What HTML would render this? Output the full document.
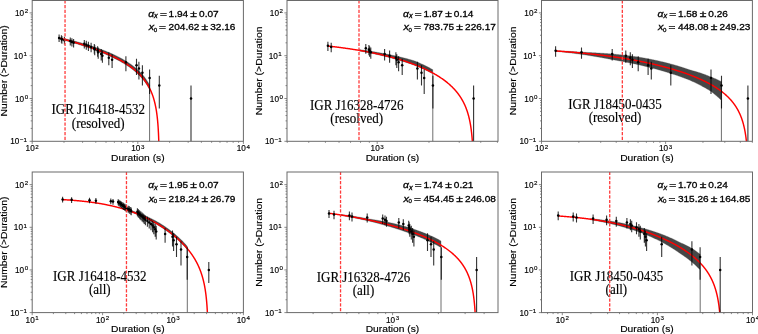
<!DOCTYPE html>
<html><head><meta charset="utf-8"><title>Duration distributions</title>
<style>html,body{margin:0;padding:0;background:#fff;}svg{display:block;will-change:transform;filter:blur(0.3px);}text{stroke:#000;stroke-width:0.15px;}.an text{stroke-width:0.3px;}</style>
</head><body>
<svg width="758" height="334" viewBox="0 0 758 334">
<rect width="758" height="334" fill="#fff"/>
<polygon fill="#474747" stroke="#474747" stroke-width="0.3" points="65,38.68 65.5,38.8 66,38.93 66.5,39.05 67,39.17 67.5,39.29 68,39.42 68.5,39.54 69,39.67 69.5,39.79 70,39.92 70.5,40.05 71,40.17 71.5,40.3 72,40.43 72.5,40.56 73,40.69 73.5,40.82 74,40.95 74.5,41.08 75,41.22 75.5,41.35 76,41.48 76.5,41.62 77,41.75 77.5,41.89 78,42.03 78.5,42.16 79,42.3 79.5,42.44 80,42.58 80.5,42.72 81,42.86 81.5,43 82,43.15 82.5,43.29 83,43.43 83.5,43.58 84,43.73 84.5,43.87 85,44.02 85.5,44.17 86,44.32 86.5,44.47 87,44.62 87.5,44.77 88,44.92 88.5,45.08 89,45.24 89.5,45.4 90,45.56 90.5,45.72 91,45.88 91.5,46.04 92,46.21 92.5,46.37 93,46.54 93.5,46.7 94,46.87 94.5,47.04 95,47.21 95.5,47.38 96,47.55 96.5,47.73 97,47.9 97.5,48.08 98,48.25 98.5,48.43 99,48.61 99.5,48.79 100,48.97 100.5,49.16 101,49.34 101.5,49.53 102,49.72 102.5,49.91 103,50.1 103.5,50.29 104,50.48 104.5,50.68 105,50.87 105.5,51.07 106,51.27 106.5,51.47 107,51.67 107.5,51.88 108,52.09 108.5,52.29 109,52.5 109.5,52.72 110,52.93 110.5,53.14 111,53.36 111.5,53.58 112,53.8 112.5,54.03 113,54.26 113.5,54.49 114,54.72 114.5,54.96 115,55.19 115.5,55.43 116,55.67 116.5,55.92 117,56.16 117.5,56.41 118,56.67 118.5,56.92 119,57.18 119.5,57.44 120,57.7 120.5,57.97 121,58.24 121.5,58.51 122,58.79 122.5,59.07 123,59.35 123.5,59.63 124,59.92 124.5,60.22 125,60.52 125.5,60.82 126,61.12 126.5,61.43 127,61.74 127.5,62.06 128,62.39 128.5,62.71 129,63.05 129.5,63.38 130,63.72 130.5,64.07 131,64.43 131.5,64.79 132,65.15 132.5,65.52 133,65.89 133.5,66.27 134,66.66 134.5,67.05 135,67.46 135.5,67.87 136,68.28 136.5,68.71 137,69.14 137.5,69.59 138,70.04 138.5,70.51 139,70.98 139.5,71.47 140,71.97 140.5,72.48 141,73 141.5,73.54 142,74.09 142.5,74.66 143,75.24 143.5,75.84 144,76.46 144.5,77.1 145,77.76 145.5,78.44 146,79.15 146.5,79.88 147,80.65 147.5,81.44 148,82.26 148.5,83.12 149,84.02 149.5,84.96 149.6,85.16 149.6,89.76 149.5,89.56 149,88.6 148.5,87.68 148,86.8 147.5,85.95 147,85.14 146.5,84.36 146,83.61 145.5,82.88 145,82.18 144.5,81.5 144,80.84 143.5,80.2 143,79.58 142.5,78.98 142,78.39 141.5,77.82 141,77.26 140.5,76.72 140,76.19 139.5,75.67 139,75.16 138.5,74.67 138,74.18 137.5,73.71 137,73.24 136.5,72.79 136,72.34 135.5,71.9 135,71.47 134.5,71.05 134,70.64 133.5,70.23 133,69.83 132.5,69.44 132,69.05 131.5,68.67 131,68.3 130.5,67.94 130,67.57 129.5,67.22 129,66.87 128.5,66.53 128,66.19 127.5,65.85 127,65.52 126.5,65.19 126,64.87 125.5,64.55 125,64.24 124.5,63.93 124,63.62 123.5,63.32 123,63.02 122.5,62.73 122,62.44 121.5,62.15 121,61.86 120.5,61.58 120,61.3 119.5,61.03 119,60.75 118.5,60.48 118,60.22 117.5,59.95 117,59.69 116.5,59.43 116,59.17 115.5,58.92 115,58.67 114.5,58.42 114,58.17 113.5,57.93 113,57.68 112.5,57.44 112,57.2 111.5,56.96 111,56.73 110.5,56.49 110,56.26 109.5,56.03 109,55.8 108.5,55.58 108,55.35 107.5,55.13 107,54.91 106.5,54.69 106,54.47 105.5,54.25 105,54.04 104.5,53.83 104,53.61 103.5,53.4 103,53.2 102.5,52.99 102,52.78 101.5,52.58 101,52.38 100.5,52.17 100,51.97 99.5,51.78 99,51.58 98.5,51.38 98,51.19 97.5,50.99 97,50.8 96.5,50.61 96,50.42 95.5,50.23 95,50.04 94.5,49.86 94,49.67 93.5,49.49 93,49.3 92.5,49.12 92,48.94 91.5,48.76 91,48.58 90.5,48.4 90,48.22 89.5,48.05 89,47.87 88.5,47.7 88,47.52 87.5,47.35 87,47.18 86.5,47.02 86,46.85 85.5,46.68 85,46.52 84.5,46.35 84,46.19 83.5,46.02 83,45.86 82.5,45.7 82,45.54 81.5,45.38 81,45.22 80.5,45.06 80,44.9 79.5,44.74 79,44.59 78.5,44.43 78,44.28 77.5,44.12 77,43.97 76.5,43.82 76,43.66 75.5,43.51 75,43.36 74.5,43.21 74,43.06 73.5,42.91 73,42.77 72.5,42.62 72,42.47 71.5,42.33 71,42.18 70.5,42.04 70,41.89 69.5,41.75 69,41.61 68.5,41.46 68,41.32 67.5,41.18 67,41.04 66.5,40.9 66,40.76 65.5,40.62 65,40.48"/>
<line x1="149.6" y1="89.76" x2="149.6" y2="141.3" stroke="#6e6e6e" stroke-width="1.0"/>
<polyline fill="none" stroke="#ff0000" stroke-width="1.45" stroke-linejoin="round" points="59.5,38.12 59.9,38.23 60.3,38.33 60.7,38.44 61.1,38.54 61.5,38.65 61.9,38.75 62.3,38.86 62.7,38.96 63.1,39.07 63.5,39.18 63.9,39.29 64.3,39.39 64.7,39.5 65.1,39.61 65.5,39.72 65.9,39.83 66.3,39.94 66.7,40.05 67.1,40.16 67.5,40.27 67.9,40.38 68.3,40.49 68.7,40.6 69.1,40.72 69.5,40.83 69.9,40.94 70.3,41.06 70.7,41.17 71.1,41.28 71.5,41.4 71.9,41.51 72.3,41.63 72.7,41.74 73.1,41.86 73.5,41.98 73.9,42.1 74.3,42.21 74.7,42.33 75.1,42.45 75.5,42.57 75.9,42.69 76.3,42.81 76.7,42.93 77.1,43.05 77.5,43.17 77.9,43.29 78.3,43.41 78.7,43.53 79.1,43.66 79.5,43.78 79.9,43.9 80.3,44.03 80.7,44.15 81.1,44.28 81.5,44.41 81.9,44.53 82.3,44.66 82.7,44.79 83.1,44.91 83.5,45.04 83.9,45.17 84.3,45.3 84.7,45.43 85.1,45.56 85.5,45.69 85.88,45.82 86.26,45.94 86.64,46.07 87.02,46.2 87.4,46.32 87.78,46.45 88.16,46.58 88.54,46.71 88.92,46.84 89.3,46.97 89.68,47.1 90.06,47.23 90.44,47.36 90.82,47.49 91.2,47.62 91.58,47.76 91.96,47.89 92.34,48.03 92.72,48.16 93.1,48.3 93.48,48.43 93.86,48.57 94.24,48.71 94.62,48.85 95,48.98 95.38,49.12 95.76,49.26 96.14,49.4 96.52,49.55 96.9,49.69 97.28,49.83 97.66,49.97 98.04,50.12 98.42,50.26 98.8,50.41 99.18,50.56 99.56,50.7 99.94,50.85 100.32,51 100.7,51.15 101.08,51.3 101.46,51.45 101.84,51.6 102.22,51.75 102.6,51.91 102.98,52.06 103.36,52.22 103.74,52.37 104.12,52.53 104.5,52.69 104.88,52.85 105.26,53.01 105.64,53.17 106.02,53.33 106.4,53.49 106.78,53.65 107.16,53.82 107.54,53.98 107.92,54.15 108.3,54.32 108.68,54.49 109.06,54.66 109.44,54.83 109.82,55 110.2,55.17 110.58,55.34 110.96,55.52 111.34,55.69 111.72,55.87 112.1,56.05 112.48,56.23 112.86,56.41 113.24,56.59 113.62,56.78 113.98,56.95 114.34,57.13 114.7,57.3 115.06,57.48 115.42,57.66 115.78,57.84 116.14,58.02 116.5,58.21 116.86,58.39 117.22,58.58 117.58,58.77 117.94,58.95 118.3,59.14 118.66,59.34 119.02,59.53 119.38,59.72 119.74,59.92 120.1,60.12 120.46,60.32 120.82,60.52 121.18,60.72 121.54,60.92 121.9,61.13 122.26,61.34 122.62,61.55 122.98,61.76 123.34,61.97 123.7,62.18 124.06,62.4 124.42,62.62 124.78,62.84 125.14,63.06 125.48,63.27 125.82,63.49 126.16,63.7 126.5,63.92 126.84,64.14 127.18,64.36 127.52,64.59 127.86,64.81 128.2,65.04 128.54,65.27 128.88,65.5 129.22,65.74 129.56,65.97 129.9,66.21 130.24,66.46 130.58,66.7 130.92,66.95 131.26,67.2 131.6,67.45 131.92,67.69 132.24,67.93 132.56,68.18 132.88,68.43 133.2,68.68 133.52,68.93 133.84,69.19 134.16,69.45 134.48,69.71 134.8,69.97 135.12,70.24 135.44,70.51 135.76,70.79 136.08,71.07 136.4,71.35 136.7,71.62 137,71.89 137.3,72.16 137.6,72.44 137.9,72.72 138.2,73 138.5,73.29 138.8,73.58 139.1,73.88 139.4,74.18 139.7,74.49 139.98,74.77 140.26,75.07 140.54,75.36 140.82,75.66 141.1,75.97 141.38,76.27 141.66,76.59 141.94,76.91 142.22,77.23 142.48,77.53 142.74,77.84 143,78.15 143.26,78.47 143.52,78.79 143.78,79.12 144.04,79.45 144.3,79.79 144.56,80.14 144.8,80.46 145.04,80.79 145.28,81.12 145.52,81.46 145.76,81.8 146,82.15 146.24,82.5 146.48,82.86 146.7,83.2 146.92,83.54 147.14,83.89 147.36,84.25 147.58,84.61 147.8,84.98 148.02,85.35 148.24,85.73 148.44,86.08 148.64,86.44 148.84,86.81 149.04,87.18 149.24,87.56 149.44,87.94 149.64,88.34 149.82,88.7 150,89.07 150.18,89.44 150.36,89.82 150.54,90.21 150.72,90.61 150.9,91.01 151.06,91.38 151.22,91.75 151.38,92.13 151.54,92.52 151.7,92.92 151.86,93.32 152.02,93.74 152.18,94.16 152.32,94.53 152.46,94.92 152.6,95.31 152.74,95.71 152.88,96.12 153.02,96.53 153.16,96.96 153.3,97.39 153.44,97.84 153.56,98.23 153.68,98.63 153.8,99.03 153.92,99.45 154.04,99.87 154.16,100.3 154.28,100.74 154.4,101.2 154.52,101.66 154.62,102.06 154.72,102.46 154.82,102.87 154.92,103.29 155.02,103.72 155.12,104.16 155.22,104.62 155.32,105.08 155.42,105.55 155.52,106.04 155.6,106.43 155.68,106.84 155.76,107.25 155.84,107.68 155.92,108.11 156,108.55 156.08,109 156.16,109.47 156.24,109.94 156.32,110.43 156.4,110.93 156.48,111.45 156.56,111.98 156.62,112.38 156.68,112.8 156.74,113.22 156.8,113.66 156.86,114.1 156.92,114.56 156.98,115.03 157.04,115.5 157.1,115.99 157.16,116.5 157.22,117.02 157.28,117.55 157.34,118.1 157.4,118.66 157.46,119.24 157.52,119.84 157.56,120.25 157.6,120.67 157.64,121.1 157.68,121.54 157.72,121.99 157.76,122.45 157.8,122.92 157.84,123.41 157.88,123.9 157.92,124.41 157.96,124.94 158,125.48 158.04,126.04 158.08,126.61 158.12,127.2 158.16,127.81 158.2,128.44 158.24,129.09 158.28,129.77 158.32,130.47 158.36,131.2 158.4,131.96 158.44,132.75 158.46,133.16 158.48,133.58 158.5,134 158.52,134.44 158.54,134.89 158.56,135.35 158.58,135.81 158.6,136.3 158.62,136.79 158.64,137.3 158.66,137.82 158.68,138.36 158.7,138.91 158.72,139.48 158.74,140.07 158.76,140.67 158.78,141.3"/>
<path d="M59.1 34.61V42M61.4 35.28V42.82M61.9 35.97V43.67M64.4 36.7V44.56M70.3 37.45V45.5M71.9 38.24V46.48M73.6 39.06V47.52M84.3 39.93V48.61M86.3 40.84V49.77M88.4 41.8V51M91.1 42.82V52.31M94.3 43.89V53.71M94.7 45.04V55.23M97.6 46.27V56.86M98.2 47.6V58.64M101.2 49.03V60.6M102.4 50.59V62.77M108.8 52.31V65.2M112.1 54.22V67.96M125.9 56.37V71.15M136.5 58.83V74.95M138.9 61.71V79.6M142.4 65.2V85.62M149.6 69.61V94.09M159.3 75.68V108.44M191 85.62V141.3" stroke="#000" stroke-opacity="0.8" stroke-width="1.1" fill="none"/>
<g fill="#000"><circle cx="59.1" cy="37.94" r="1.25"/><circle cx="61.4" cy="38.67" r="1.25"/><circle cx="61.9" cy="39.43" r="1.25"/><circle cx="64.4" cy="40.22" r="1.25"/><circle cx="70.3" cy="41.04" r="1.25"/><circle cx="71.9" cy="41.91" r="1.25"/><circle cx="73.6" cy="42.82" r="1.25"/><circle cx="84.3" cy="43.77" r="1.25"/><circle cx="86.3" cy="44.77" r="1.25"/><circle cx="88.4" cy="45.84" r="1.25"/><circle cx="91.1" cy="46.96" r="1.25"/><circle cx="94.3" cy="48.16" r="1.25"/><circle cx="94.7" cy="49.45" r="1.25"/><circle cx="97.6" cy="50.82" r="1.25"/><circle cx="98.2" cy="52.31" r="1.25"/><circle cx="101.2" cy="53.93" r="1.25"/><circle cx="102.4" cy="55.7" r="1.25"/><circle cx="108.8" cy="57.66" r="1.25"/><circle cx="112.1" cy="59.85" r="1.25"/><circle cx="125.9" cy="62.33" r="1.25"/><circle cx="136.5" cy="65.2" r="1.25"/><circle cx="138.9" cy="68.58" r="1.25"/><circle cx="142.4" cy="72.73" r="1.25"/><circle cx="149.6" cy="78.08" r="1.25"/><circle cx="159.3" cy="85.62" r="1.25"/><circle cx="191" cy="98.5" r="1.25"/></g>
<text x="98.2" y="114.4" text-anchor="middle" style="font-family:'Liberation Serif',serif;font-size:13.6px" textLength="93.53" lengthAdjust="spacingAndGlyphs" fill="#000">IGR J16418-4532</text>
<text x="98.2" y="127.6" text-anchor="middle" style="font-family:'Liberation Serif',serif;font-size:13.6px" textLength="52.7" lengthAdjust="spacingAndGlyphs" fill="#000">(resolved)</text>
<line x1="65.04" y1="141.3" x2="65.04" y2="0.5" stroke="#ff3b3b" stroke-width="1.3" stroke-dasharray="3.2 1.5" stroke-dashoffset="3.3"/>
<g class="an" fill="#000"><text x="148.15" y="16.7" style="font-family:'Liberation Sans';font-style:italic;font-size:9.2px" textLength="5.9" lengthAdjust="spacingAndGlyphs">α</text><text x="154.1" y="18.3" style="font-family:'Liberation Sans';font-style:italic;font-size:6.3px" textLength="3.7" lengthAdjust="spacingAndGlyphs">x</text><text x="148.8" y="30.1" style="font-family:'Liberation Sans';font-style:italic;font-size:9.2px" textLength="5.4" lengthAdjust="spacingAndGlyphs">x</text><text x="153.7" y="31.8" style="font-family:'Liberation Sans',sans-serif;font-size:6px" textLength="3.4" lengthAdjust="spacingAndGlyphs">0</text><text x="160.04" y="16.7" style="font-family:'Liberation Sans',sans-serif;font-size:9.2px" textLength="6.93" lengthAdjust="spacingAndGlyphs">=</text><text x="168.6" y="16.7" style="font-family:'Liberation Sans',sans-serif;font-size:9.2px" textLength="19.59" lengthAdjust="spacingAndGlyphs">1.94</text><text x="190.39" y="16.7" style="font-family:'Liberation Sans',sans-serif;font-size:8.8px" textLength="6.6" lengthAdjust="spacingAndGlyphs">±</text><text x="199.09" y="16.7" style="font-family:'Liberation Sans',sans-serif;font-size:9.2px" textLength="19.59" lengthAdjust="spacingAndGlyphs">0.07</text><text x="159.14" y="30.1" style="font-family:'Liberation Sans',sans-serif;font-size:9.2px" textLength="6.93" lengthAdjust="spacingAndGlyphs">=</text><text x="168.6" y="30.1" style="font-family:'Liberation Sans',sans-serif;font-size:9.2px" textLength="30.78" lengthAdjust="spacingAndGlyphs">204.62</text><text x="201.58" y="30.1" style="font-family:'Liberation Sans',sans-serif;font-size:8.8px" textLength="6.6" lengthAdjust="spacingAndGlyphs">±</text><text x="210.28" y="30.1" style="font-family:'Liberation Sans',sans-serif;font-size:9.2px" textLength="25.19" lengthAdjust="spacingAndGlyphs">32.16</text></g>
<rect x="32.2" y="0.5" width="211.2" height="140.8" fill="none" stroke="#6a6a6a" stroke-width="1"/>
<path d="M32.2 141.3v2.6M63.99 141.3v1.5M82.58 141.3v1.5M95.78 141.3v1.5M106.01 141.3v1.5M114.37 141.3v1.5M121.44 141.3v1.5M127.57 141.3v1.5M132.97 141.3v1.5M137.8 141.3v2.6M169.59 141.3v1.5M188.18 141.3v1.5M201.38 141.3v1.5M211.61 141.3v1.5M219.97 141.3v1.5M227.04 141.3v1.5M233.17 141.3v1.5M238.57 141.3v1.5M243.4 141.3v2.6M32.2 141.3h-2.6M32.2 128.42h-1.5M32.2 120.88h-1.5M32.2 115.53h-1.5M32.2 111.38h-1.5M32.2 108h-1.5M32.2 105.13h-1.5M32.2 102.65h-1.5M32.2 100.46h-1.5M32.2 98.5h-2.6M32.2 85.62h-1.5M32.2 78.08h-1.5M32.2 72.73h-1.5M32.2 68.58h-1.5M32.2 65.2h-1.5M32.2 62.33h-1.5M32.2 59.85h-1.5M32.2 57.66h-1.5M32.2 55.7h-2.6M32.2 42.82h-1.5M32.2 35.28h-1.5M32.2 29.93h-1.5M32.2 25.78h-1.5M32.2 22.4h-1.5M32.2 19.53h-1.5M32.2 17.05h-1.5M32.2 14.86h-1.5M32.2 12.9h-2.6" stroke="#6a6a6a" stroke-width="0.8" fill="none"/>
<g style="font-family:'Liberation Sans',sans-serif;font-size:8.2px" fill="#000"><text x="32.2" y="151.3" text-anchor="middle">10<tspan dx="0.6" dy="-2.7" style="font-size:6.2px">2</tspan></text><text x="137.8" y="151.3" text-anchor="middle">10<tspan dx="0.6" dy="-2.7" style="font-size:6.2px">3</tspan></text><text x="243.4" y="151.3" text-anchor="middle">10<tspan dx="0.6" dy="-2.7" style="font-size:6.2px">4</tspan></text><text x="27" y="144.3" text-anchor="end">10<tspan dx="0.6" dy="-2.7" style="font-size:6.2px">−1</tspan></text><text x="28.2" y="101.5" text-anchor="end">10<tspan dx="0.6" dy="-2.7" style="font-size:6.2px">0</tspan></text><text x="27" y="58.7" text-anchor="end">10<tspan dx="0.6" dy="-2.7" style="font-size:6.2px">1</tspan></text><text x="28.2" y="15.9" text-anchor="end">10<tspan dx="0.6" dy="-2.7" style="font-size:6.2px">2</tspan></text></g>
<text x="137.8" y="160.9" text-anchor="middle" style="font-family:'Liberation Sans',sans-serif;font-size:9px" textLength="53.6" lengthAdjust="spacingAndGlyphs" fill="#000">Duration (s)</text>
<text transform="translate(7,70.9) rotate(-90)" x="0" y="0" text-anchor="middle" style="font-family:'Liberation Sans',sans-serif;font-size:9px" textLength="91.3" lengthAdjust="spacingAndGlyphs" fill="#000">Number (&gt;Duration)</text>
<polygon fill="#474747" stroke="#474747" stroke-width="0.3" points="359,49.61 359.5,49.67 360,49.74 360.5,49.8 361,49.87 361.5,49.93 362,50 362.5,50.07 363,50.14 363.5,50.2 364,50.27 364.5,50.34 365,50.41 365.5,50.48 366,50.56 366.5,50.63 367,50.7 367.5,50.77 368,50.85 368.5,50.92 369,51 369.5,51.07 370,51.15 370.5,51.23 371,51.31 371.5,51.38 372,51.46 372.5,51.54 373,51.62 373.5,51.71 374,51.79 374.5,51.87 375,51.96 375.5,52.04 376,52.12 376.5,52.21 377,52.3 377.5,52.38 378,52.47 378.5,52.56 379,52.65 379.5,52.74 380,52.83 380.5,52.93 381,53.02 381.5,53.11 382,53.21 382.5,53.3 383,53.4 383.5,53.5 384,53.59 384.5,53.69 385,53.79 385.5,53.88 386,53.98 386.5,54.07 387,54.17 387.5,54.26 388,54.36 388.5,54.46 389,54.56 389.5,54.65 390,54.76 390.5,54.86 391,54.96 391.5,55.06 392,55.17 392.5,55.27 393,55.38 393.5,55.49 394,55.59 394.5,55.7 395,55.81 395.5,55.93 396,56.04 396.5,56.15 397,56.27 397.5,56.38 398,56.5 398.5,56.62 399,56.73 399.5,56.85 400,56.97 400.5,57.08 401,57.2 401.5,57.33 402,57.45 402.5,57.57 403,57.7 403.5,57.82 404,57.95 404.5,58.08 405,58.21 405.5,58.34 406,58.47 406.5,58.6 407,58.74 407.5,58.87 408,59.01 408.5,59.15 409,59.29 409.5,59.43 410,59.58 410.5,59.72 411,59.87 411.5,60.02 412,60.16 412.5,60.32 413,60.47 413.5,60.62 414,60.78 414.5,60.94 415,61.09 415.5,61.3 416,61.51 416.5,61.72 417,61.93 417.5,62.14 418,62.35 418.5,62.57 419,62.79 419.5,63.01 420,63.23 420.5,63.45 421,63.68 421.5,63.91 422,64.14 422.5,64.37 423,64.6 423.5,64.84 424,65.08 424.5,65.32 425,65.56 425.5,65.81 426,66.05 426.5,66.3 427,66.56 427.5,66.81 428,67.07 428.5,67.33 429,67.59 429.5,67.86 430,68.12 430.5,68.4 431,68.67 431.5,68.95 432,69.23 432.5,69.51 432.8,69.68 432.8,73.78 432.5,73.61 432,73.34 431.5,73.07 431,72.8 430.5,72.53 430,72.27 429.5,72.01 429,71.76 428.5,71.5 428,71.25 427.5,71 427,70.75 426.5,70.51 426,70.27 425.5,70.03 425,69.79 424.5,69.56 424,69.33 423.5,69.1 423,68.87 422.5,68.64 422,68.42 421.5,68.2 421,67.98 420.5,67.76 420,67.55 419.5,67.33 419,67.12 418.5,66.91 418,66.7 417.5,66.5 417,66.29 416.5,66.09 416,65.89 415.5,65.69 415,65.49 414.5,65.31 414,65.12 413.5,64.94 413,64.76 412.5,64.58 412,64.4 411.5,64.22 411,64.05 410.5,63.87 410,63.7 409.5,63.53 409,63.36 408.5,63.19 408,63.03 407.5,62.86 407,62.7 406.5,62.54 406,62.38 405.5,62.22 405,62.06 404.5,61.9 404,61.74 403.5,61.59 403,61.44 402.5,61.28 402,61.13 401.5,60.98 401,60.84 400.5,60.69 400,60.54 399.5,60.4 399,60.25 398.5,60.11 398,59.96 397.5,59.81 397,59.66 396.5,59.51 396,59.37 395.5,59.22 395,59.08 394.5,58.93 394,58.79 393.5,58.65 393,58.51 392.5,58.37 392,58.23 391.5,58.09 391,57.96 390.5,57.82 390,57.69 389.5,57.55 389,57.42 388.5,57.29 388,57.16 387.5,57.03 387,56.9 386.5,56.77 386,56.64 385.5,56.52 385,56.39 384.5,56.27 384,56.14 383.5,56.02 383,55.9 382.5,55.78 382,55.66 381.5,55.54 381,55.42 380.5,55.3 380,55.18 379.5,55.07 379,54.95 378.5,54.84 378,54.72 377.5,54.61 377,54.5 376.5,54.39 376,54.27 375.5,54.16 375,54.06 374.5,53.95 374,53.84 373.5,53.73 373,53.62 372.5,53.52 372,53.41 371.5,53.31 371,53.21 370.5,53.1 370,53 369.5,52.9 369,52.8 368.5,52.7 368,52.6 367.5,52.5 367,52.4 366.5,52.3 366,52.21 365.5,52.11 365,52.01 364.5,51.92 364,51.82 363.5,51.73 363,51.64 362.5,51.54 362,51.45 361.5,51.36 361,51.27 360.5,51.18 360,51.09 359.5,51 359,50.91"/>
<line x1="432.8" y1="73.78" x2="432.8" y2="141.3" stroke="#6e6e6e" stroke-width="1.0"/>
<polyline fill="none" stroke="#ff0000" stroke-width="1.45" stroke-linejoin="round" points="328,46.03 328.4,46.07 328.8,46.12 329.2,46.16 329.6,46.21 330,46.26 330.4,46.3 330.8,46.35 331.2,46.39 331.6,46.44 332,46.49 332.4,46.53 332.8,46.58 333.2,46.63 333.6,46.68 334,46.73 334.4,46.77 334.8,46.82 335.2,46.87 335.6,46.92 336,46.97 336.4,47.02 336.8,47.07 337.2,47.12 337.6,47.17 338,47.22 338.4,47.27 338.8,47.32 339.2,47.38 339.6,47.43 340,47.48 340.4,47.53 340.8,47.59 341.2,47.64 341.6,47.69 342,47.75 342.4,47.8 342.8,47.85 343.2,47.91 343.6,47.96 344,48.02 344.4,48.07 344.8,48.13 345.2,48.18 345.6,48.24 346,48.3 346.4,48.35 346.8,48.41 347.2,48.47 347.6,48.53 348,48.58 348.4,48.64 348.8,48.7 349.2,48.76 349.6,48.82 350,48.88 350.4,48.94 350.8,49 351.2,49.06 351.6,49.12 352,49.18 352.4,49.24 352.8,49.31 353.2,49.37 353.6,49.43 354,49.49 354.4,49.56 354.8,49.62 355.2,49.69 355.6,49.75 356,49.81 356.4,49.88 356.8,49.95 357.2,50.01 357.6,50.08 358,50.14 358.4,50.21 358.8,50.28 359.2,50.35 359.6,50.41 360,50.48 360.4,50.55 360.8,50.62 361.2,50.69 361.6,50.76 362,50.83 362.4,50.9 362.8,50.97 363.2,51.04 363.6,51.11 364,51.19 364.4,51.26 364.8,51.33 365.2,51.4 365.6,51.48 366,51.55 366.4,51.63 366.8,51.7 367.2,51.78 367.6,51.85 368,51.93 368.4,52.01 368.8,52.08 369.2,52.16 369.6,52.24 370,52.32 370.4,52.39 370.8,52.47 371.2,52.55 371.6,52.63 372,52.71 372.4,52.79 372.8,52.88 373.2,52.96 373.6,53.04 374,53.12 374.4,53.21 374.8,53.29 375.2,53.37 375.6,53.46 376,53.54 376.4,53.63 376.8,53.72 377.2,53.8 377.6,53.89 378,53.98 378.4,54.06 378.8,54.15 379.2,54.24 379.6,54.33 380,54.42 380.4,54.51 380.8,54.6 381.2,54.7 381.6,54.79 382,54.88 382.4,54.97 382.8,55.07 383.2,55.16 383.6,55.26 384,55.35 384.4,55.45 384.8,55.54 385.2,55.64 385.6,55.74 386,55.84 386.4,55.93 386.8,56.03 387.2,56.13 387.6,56.23 388,56.34 388.4,56.44 388.8,56.54 389.2,56.64 389.6,56.75 390,56.85 390.4,56.95 390.8,57.06 391.2,57.16 391.6,57.27 392,57.38 392.4,57.49 392.8,57.59 393.2,57.7 393.6,57.81 394,57.92 394.4,58.03 394.8,58.15 395.2,58.26 395.6,58.37 396,58.48 396.4,58.6 396.8,58.71 397.2,58.83 397.6,58.95 398,59.06 398.4,59.18 398.8,59.3 399.2,59.42 399.6,59.54 400,59.66 400.4,59.78 400.8,59.9 401.2,60.03 401.6,60.15 402,60.28 402.4,60.4 402.8,60.53 403.2,60.65 403.6,60.78 404,60.91 404.4,61.04 404.8,61.17 405.2,61.3 405.58,61.43 405.96,61.55 406.34,61.68 406.72,61.81 407.1,61.93 407.48,62.06 407.86,62.19 408.24,62.32 408.62,62.46 409,62.59 409.38,62.72 409.76,62.86 410.14,62.99 410.52,63.13 410.9,63.26 411.28,63.4 411.66,63.54 412.04,63.68 412.42,63.82 412.8,63.96 413.18,64.1 413.56,64.24 413.94,64.39 414.32,64.53 414.7,64.68 415.08,64.83 415.46,64.97 415.84,65.12 416.22,65.27 416.6,65.42 416.98,65.57 417.36,65.73 417.74,65.88 418.12,66.04 418.5,66.19 418.88,66.35 419.26,66.51 419.64,66.67 420.02,66.83 420.4,66.99 420.78,67.15 421.16,67.31 421.54,67.48 421.92,67.64 422.3,67.81 422.68,67.98 423.06,68.15 423.44,68.32 423.82,68.49 424.2,68.67 424.58,68.84 424.96,69.02 425.34,69.2 425.72,69.37 426.1,69.55 426.48,69.74 426.86,69.92 427.22,70.09 427.58,70.27 427.94,70.45 428.3,70.63 428.66,70.81 429.02,70.99 429.38,71.17 429.74,71.35 430.1,71.54 430.46,71.73 430.82,71.91 431.18,72.1 431.54,72.3 431.9,72.49 432.26,72.68 432.62,72.88 432.98,73.08 433.34,73.28 433.7,73.48 434.06,73.68 434.42,73.89 434.78,74.09 435.14,74.3 435.5,74.51 435.86,74.72 436.22,74.93 436.58,75.15 436.94,75.37 437.3,75.59 437.66,75.81 438,76.02 438.34,76.23 438.68,76.45 439.02,76.66 439.36,76.88 439.7,77.1 440.04,77.32 440.38,77.55 440.72,77.77 441.06,78 441.4,78.23 441.74,78.47 442.08,78.7 442.42,78.94 442.76,79.18 443.1,79.42 443.44,79.67 443.78,79.92 444.12,80.17 444.46,80.42 444.78,80.66 445.1,80.9 445.42,81.15 445.74,81.39 446.06,81.64 446.38,81.9 446.7,82.15 447.02,82.41 447.34,82.67 447.66,82.94 447.98,83.2 448.3,83.47 448.62,83.75 448.94,84.02 449.26,84.3 449.56,84.57 449.86,84.83 450.16,85.11 450.46,85.38 450.76,85.66 451.06,85.94 451.36,86.22 451.66,86.51 451.96,86.8 452.26,87.1 452.56,87.39 452.86,87.7 453.14,87.98 453.42,88.27 453.7,88.57 453.98,88.86 454.26,89.16 454.54,89.47 454.82,89.78 455.1,90.09 455.38,90.41 455.66,90.73 455.94,91.05 456.2,91.36 456.46,91.67 456.72,91.99 456.98,92.31 457.24,92.63 457.5,92.96 457.76,93.3 458.02,93.64 458.28,93.98 458.52,94.3 458.76,94.63 459,94.96 459.24,95.3 459.48,95.64 459.72,95.99 459.96,96.35 460.2,96.71 460.42,97.04 460.64,97.38 460.86,97.73 461.08,98.08 461.3,98.43 461.52,98.79 461.74,99.16 461.96,99.54 462.18,99.92 462.38,100.27 462.58,100.63 462.78,100.99 462.98,101.37 463.18,101.74 463.38,102.13 463.58,102.52 463.76,102.88 463.94,103.24 464.12,103.61 464.3,103.99 464.48,104.37 464.66,104.76 464.84,105.16 465.02,105.57 465.18,105.94 465.34,106.31 465.5,106.69 465.66,107.08 465.82,107.48 465.98,107.88 466.14,108.29 466.3,108.71 466.46,109.14 466.6,109.53 466.74,109.92 466.88,110.31 467.02,110.72 467.16,111.13 467.3,111.55 467.44,111.98 467.58,112.42 467.7,112.81 467.82,113.2 467.94,113.6 468.06,114.01 468.18,114.43 468.3,114.85 468.42,115.29 468.54,115.73 468.66,116.19 468.78,116.65 468.88,117.05 468.98,117.45 469.08,117.87 469.18,118.29 469.28,118.72 469.38,119.16 469.48,119.61 469.58,120.07 469.68,120.54 469.78,121.02 469.86,121.41 469.94,121.82 470.02,122.23 470.1,122.65 470.18,123.08 470.26,123.52 470.34,123.97 470.42,124.43 470.5,124.9 470.58,125.38 470.66,125.87 470.74,126.38 470.82,126.9 470.88,127.3 470.94,127.71 471,128.13 471.06,128.55 471.12,128.99 471.18,129.44 471.24,129.89 471.3,130.36 471.36,130.84 471.42,131.33 471.48,131.84 471.54,132.35 471.6,132.89 471.66,133.43 471.72,134 471.78,134.58 471.84,135.18 471.88,135.59 471.92,136.01 471.96,136.43 472,136.87 472.04,137.32 472.08,137.78 472.12,138.25 472.16,138.73 472.2,139.23 472.24,139.74 472.28,140.26 472.32,140.8 472.36,141.3"/>
<path d="M327.9 41.8V51M331.2 42.82V52.31M365.8 43.89V53.71M368.9 45.04V55.23M369.6 46.27V56.86M370.8 47.6V58.64M384.6 49.03V60.6M389.6 50.59V62.77M395.9 52.31V65.2M396.8 54.22V67.96M398.6 56.37V71.15M402.2 58.83V74.95M417.4 61.71V79.6M421.5 65.2V85.62M424.2 69.61V94.09M432.9 75.68V108.44M473.6 85.62V141.3" stroke="#000" stroke-opacity="0.8" stroke-width="1.1" fill="none"/>
<g fill="#000"><circle cx="327.9" cy="45.84" r="1.25"/><circle cx="331.2" cy="46.96" r="1.25"/><circle cx="365.8" cy="48.16" r="1.25"/><circle cx="368.9" cy="49.45" r="1.25"/><circle cx="369.6" cy="50.82" r="1.25"/><circle cx="370.8" cy="52.31" r="1.25"/><circle cx="384.6" cy="53.93" r="1.25"/><circle cx="389.6" cy="55.7" r="1.25"/><circle cx="395.9" cy="57.66" r="1.25"/><circle cx="396.8" cy="59.85" r="1.25"/><circle cx="398.6" cy="62.33" r="1.25"/><circle cx="402.2" cy="65.2" r="1.25"/><circle cx="417.4" cy="68.58" r="1.25"/><circle cx="421.5" cy="72.73" r="1.25"/><circle cx="424.2" cy="78.08" r="1.25"/><circle cx="432.9" cy="85.62" r="1.25"/><circle cx="473.6" cy="98.5" r="1.25"/></g>
<text x="356.7" y="109.9" text-anchor="middle" style="font-family:'Liberation Serif',serif;font-size:13.6px" textLength="93.53" lengthAdjust="spacingAndGlyphs" fill="#000">IGR J16328-4726</text>
<text x="356.7" y="123.1" text-anchor="middle" style="font-family:'Liberation Serif',serif;font-size:13.6px" textLength="52.7" lengthAdjust="spacingAndGlyphs" fill="#000">(resolved)</text>
<line x1="359" y1="141.3" x2="359" y2="0.5" stroke="#ff3b3b" stroke-width="1.3" stroke-dasharray="3.2 1.5" stroke-dashoffset="3.3"/>
<g class="an" fill="#000"><text x="402.95" y="16.7" style="font-family:'Liberation Sans';font-style:italic;font-size:9.2px" textLength="5.9" lengthAdjust="spacingAndGlyphs">α</text><text x="408.9" y="18.3" style="font-family:'Liberation Sans';font-style:italic;font-size:6.3px" textLength="3.7" lengthAdjust="spacingAndGlyphs">x</text><text x="403.6" y="30.1" style="font-family:'Liberation Sans';font-style:italic;font-size:9.2px" textLength="5.4" lengthAdjust="spacingAndGlyphs">x</text><text x="408.5" y="31.8" style="font-family:'Liberation Sans',sans-serif;font-size:6px" textLength="3.4" lengthAdjust="spacingAndGlyphs">0</text><text x="414.84" y="16.7" style="font-family:'Liberation Sans',sans-serif;font-size:9.2px" textLength="6.93" lengthAdjust="spacingAndGlyphs">=</text><text x="423.4" y="16.7" style="font-family:'Liberation Sans',sans-serif;font-size:9.2px" textLength="19.59" lengthAdjust="spacingAndGlyphs">1.87</text><text x="445.19" y="16.7" style="font-family:'Liberation Sans',sans-serif;font-size:8.8px" textLength="6.6" lengthAdjust="spacingAndGlyphs">±</text><text x="453.89" y="16.7" style="font-family:'Liberation Sans',sans-serif;font-size:9.2px" textLength="19.59" lengthAdjust="spacingAndGlyphs">0.14</text><text x="413.94" y="30.1" style="font-family:'Liberation Sans',sans-serif;font-size:9.2px" textLength="6.93" lengthAdjust="spacingAndGlyphs">=</text><text x="423.4" y="30.1" style="font-family:'Liberation Sans',sans-serif;font-size:9.2px" textLength="30.78" lengthAdjust="spacingAndGlyphs">783.75</text><text x="456.38" y="30.1" style="font-family:'Liberation Sans',sans-serif;font-size:8.8px" textLength="6.6" lengthAdjust="spacingAndGlyphs">±</text><text x="465.08" y="30.1" style="font-family:'Liberation Sans',sans-serif;font-size:9.2px" textLength="30.78" lengthAdjust="spacingAndGlyphs">226.17</text></g>
<rect x="287" y="0.5" width="211" height="140.8" fill="none" stroke="#6a6a6a" stroke-width="1"/>
<path d="M287.26 141.3v1.5M308.75 141.3v1.5M325.42 141.3v1.5M339.04 141.3v1.5M350.56 141.3v1.5M360.53 141.3v1.5M369.33 141.3v1.5M377.2 141.3v2.6M428.98 141.3v1.5M459.26 141.3v1.5M480.75 141.3v1.5M497.42 141.3v1.5M287 141.3h-2.6M287 128.42h-1.5M287 120.88h-1.5M287 115.53h-1.5M287 111.38h-1.5M287 108h-1.5M287 105.13h-1.5M287 102.65h-1.5M287 100.46h-1.5M287 98.5h-2.6M287 85.62h-1.5M287 78.08h-1.5M287 72.73h-1.5M287 68.58h-1.5M287 65.2h-1.5M287 62.33h-1.5M287 59.85h-1.5M287 57.66h-1.5M287 55.7h-2.6M287 42.82h-1.5M287 35.28h-1.5M287 29.93h-1.5M287 25.78h-1.5M287 22.4h-1.5M287 19.53h-1.5M287 17.05h-1.5M287 14.86h-1.5M287 12.9h-2.6" stroke="#6a6a6a" stroke-width="0.8" fill="none"/>
<g style="font-family:'Liberation Sans',sans-serif;font-size:8.2px" fill="#000"><text x="377.2" y="151.3" text-anchor="middle">10<tspan dx="0.6" dy="-2.7" style="font-size:6.2px">3</tspan></text><text x="281.8" y="144.3" text-anchor="end">10<tspan dx="0.6" dy="-2.7" style="font-size:6.2px">−1</tspan></text><text x="283" y="101.5" text-anchor="end">10<tspan dx="0.6" dy="-2.7" style="font-size:6.2px">0</tspan></text><text x="281.8" y="58.7" text-anchor="end">10<tspan dx="0.6" dy="-2.7" style="font-size:6.2px">1</tspan></text><text x="283" y="15.9" text-anchor="end">10<tspan dx="0.6" dy="-2.7" style="font-size:6.2px">2</tspan></text></g>
<text x="392.5" y="160.9" text-anchor="middle" style="font-family:'Liberation Sans',sans-serif;font-size:9px" textLength="53.6" lengthAdjust="spacingAndGlyphs" fill="#000">Duration (s)</text>
<text transform="translate(261.8,70.9) rotate(-90)" x="0" y="0" text-anchor="middle" style="font-family:'Liberation Sans',sans-serif;font-size:9px" textLength="88.7" lengthAdjust="spacingAndGlyphs" fill="#000">Number (&gt;Duration</text>
<polygon fill="#474747" stroke="#474747" stroke-width="0.3" points="556,50.68 556.5,50.71 557,50.73 557.5,50.75 558,50.78 558.5,50.8 559,50.82 559.5,50.85 560,50.87 560.5,50.9 561,50.92 561.5,50.95 562,50.97 562.5,51 563,51.03 563.5,51.05 564,51.08 564.5,51.11 565,51.13 565.5,51.16 566,51.19 566.5,51.22 567,51.25 567.5,51.27 568,51.3 568.5,51.33 569,51.36 569.5,51.39 570,51.42 570.5,51.45 571,51.48 571.5,51.51 572,51.55 572.5,51.58 573,51.61 573.5,51.64 574,51.67 574.5,51.71 575,51.74 575.5,51.77 576,51.81 576.5,51.84 577,51.87 577.5,51.91 578,51.94 578.5,51.98 579,52.02 579.5,52.05 580,52.09 580.5,52.12 581,52.16 581.5,52.18 582,52.2 582.5,52.22 583,52.24 583.5,52.25 584,52.27 584.5,52.29 585,52.32 585.5,52.34 586,52.36 586.5,52.38 587,52.4 587.5,52.42 588,52.45 588.5,52.47 589,52.49 589.5,52.52 590,52.54 590.5,52.56 591,52.59 591.5,52.61 592,52.64 592.5,52.67 593,52.69 593.5,52.72 594,52.74 594.5,52.77 595,52.8 595.5,52.83 596,52.86 596.5,52.88 597,52.91 597.5,52.94 598,52.97 598.5,53 599,53.03 599.5,53.07 600,53.1 600.5,53.13 601,53.16 601.5,53.19 602,53.23 602.5,53.26 603,53.29 603.5,53.33 604,53.36 604.5,53.4 605,53.43 605.5,53.47 606,53.51 606.5,53.54 607,53.58 607.5,53.62 608,53.66 608.5,53.69 609,53.73 609.5,53.77 610,53.81 610.5,53.85 611,53.89 611.5,53.93 612,53.98 612.5,54.02 613,54.07 613.5,54.12 614,54.16 614.5,54.21 615,54.26 615.5,54.31 616,54.36 616.5,54.41 617,54.46 617.5,54.51 618,54.56 618.5,54.61 619,54.66 619.5,54.71 620,54.77 620.5,54.82 621,54.87 621.5,54.93 622,54.98 622.5,55.04 623,55.09 623.5,55.15 624,55.21 624.5,55.26 625,55.32 625.5,55.38 626,55.44 626.5,55.5 627,55.56 627.5,55.62 628,55.68 628.5,55.74 629,55.8 629.5,55.86 630,55.92 630.5,55.99 631,56.05 631.5,56.12 632,56.18 632.5,56.25 633,56.31 633.5,56.38 634,56.45 634.5,56.51 635,56.58 635.5,56.65 636,56.72 636.5,56.79 637,56.86 637.5,56.93 638,57 638.5,57.07 639,57.15 639.5,57.22 640,57.29 640.5,57.38 641,57.47 641.5,57.56 642,57.65 642.5,57.74 643,57.83 643.5,57.92 644,58.01 644.5,58.1 645,58.19 645.5,58.29 646,58.38 646.5,58.48 647,58.57 647.5,58.67 648,58.76 648.5,58.86 649,58.96 649.5,59.06 650,59.16 650.5,59.26 651,59.36 651.5,59.46 652,59.56 652.5,59.66 653,59.76 653.5,59.87 654,59.97 654.5,60.08 655,60.18 655.5,60.29 656,60.4 656.5,60.51 657,60.61 657.5,60.72 658,60.83 658.5,60.94 659,61.06 659.5,61.17 660,61.28 660.5,61.4 661,61.51 661.5,61.63 662,61.74 662.5,61.86 663,61.98 663.5,62.1 664,62.22 664.5,62.34 665,62.46 665.5,62.58 666,62.71 666.5,62.84 667,62.97 667.5,63.09 668,63.22 668.5,63.36 669,63.49 669.5,63.62 670,63.75 670.5,63.89 671,64.02 671.5,64.16 672,64.3 672.5,64.44 673,64.58 673.5,64.72 674,64.86 674.5,65 675,65.14 675.5,65.29 676,65.43 676.5,65.58 677,65.73 677.5,65.87 678,66.02 678.5,66.17 679,66.33 679.5,66.48 680,66.63 680.5,66.79 681,66.94 681.5,67.1 682,67.26 682.5,67.42 683,67.58 683.5,67.74 684,67.9 684.5,68.07 685,68.23 685.5,68.4 686,68.57 686.5,68.74 687,68.91 687.5,69.08 688,69.26 688.5,69.43 689,69.61 689.5,69.79 690,69.97 690.5,70.1 691,70.23 691.5,70.36 692,70.49 692.5,70.63 693,70.77 693.5,70.9 694,71.05 694.5,71.19 695,71.33 695.5,71.48 696,71.62 696.5,71.77 697,71.92 697.5,72.08 698,72.23 698.5,72.39 699,72.55 699.5,72.71 700,72.87 700.5,73.04 701,73.2 701.5,73.37 702,73.54 702.5,73.72 703,73.89 703.5,74.07 704,74.25 704.5,74.43 705,74.62 705.5,74.81 706,75 706.5,75.19 707,75.39 707.5,75.59 708,75.79 708.5,75.99 709,76.2 709.5,76.41 710,76.63 710.5,76.84 711,77.07 711.5,77.24 712,77.42 712.5,77.61 713,77.8 713.5,77.99 714,78.19 714.5,78.39 715,78.59 715.5,78.8 716,79.01 716.5,79.23 717,79.45 717.5,79.68 718,79.91 718.5,80.15 719,80.39 719.5,80.64 720,80.89 720.5,81.15 721,81.41 721.4,81.63 721.4,100.33 721,99.94 720.5,99.47 720,99 719.5,98.53 719,98.07 718.5,97.62 718,97.17 717.5,96.73 717,96.29 716.5,95.86 716,95.43 715.5,95 715,94.58 714.5,94.17 714,93.76 713.5,93.35 713,92.94 712.5,92.54 712,92.15 711.5,91.75 711,91.37 710.5,91.05 710,90.74 709.5,90.43 709,90.12 708.5,89.82 708,89.52 707.5,89.22 707,88.93 706.5,88.64 706,88.35 705.5,88.06 705,87.78 704.5,87.5 704,87.22 703.5,86.94 703,86.67 702.5,86.4 702,86.13 701.5,85.86 701,85.6 700.5,85.34 700,85.08 699.5,84.82 699,84.56 698.5,84.31 698,84.06 697.5,83.81 697,83.56 696.5,83.31 696,83.07 695.5,82.82 695,82.58 694.5,82.34 694,82.11 693.5,81.87 693,81.64 692.5,81.4 692,81.17 691.5,80.94 691,80.72 690.5,80.49 690,80.27 689.5,80.06 689,79.86 688.5,79.67 688,79.47 687.5,79.27 687,79.08 686.5,78.89 686,78.69 685.5,78.5 685,78.31 684.5,78.13 684,77.94 683.5,77.76 683,77.57 682.5,77.39 682,77.21 681.5,77.03 681,76.85 680.5,76.67 680,76.49 679.5,76.32 679,76.14 678.5,75.97 678,75.8 677.5,75.62 677,75.45 676.5,75.28 676,75.12 675.5,74.95 675,74.78 674.5,74.62 674,74.45 673.5,74.29 673,74.13 672.5,73.97 672,73.81 671.5,73.65 671,73.49 670.5,73.33 670,73.17 669.5,73.02 669,72.86 668.5,72.71 668,72.56 667.5,72.4 667,72.25 666.5,72.1 666,71.95 665.5,71.8 665,71.66 664.5,71.51 664,71.36 663.5,71.21 663,71.07 662.5,70.92 662,70.77 661.5,70.63 661,70.49 660.5,70.34 660,70.2 659.5,70.06 659,69.92 658.5,69.78 658,69.64 657.5,69.5 657,69.37 656.5,69.23 656,69.09 655.5,68.96 655,68.82 654.5,68.69 654,68.56 653.5,68.42 653,68.29 652.5,68.16 652,68.03 651.5,67.9 651,67.77 650.5,67.64 650,67.52 649.5,67.39 649,67.26 648.5,67.14 648,67.01 647.5,66.89 647,66.76 646.5,66.64 646,66.52 645.5,66.39 645,66.27 644.5,66.15 644,66.03 643.5,65.91 643,65.79 642.5,65.68 642,65.56 641.5,65.44 641,65.32 640.5,65.21 640,65.09 639.5,64.98 639,64.87 638.5,64.76 638,64.64 637.5,64.53 637,64.42 636.5,64.31 636,64.2 635.5,64.1 635,63.99 634.5,63.88 634,63.77 633.5,63.67 633,63.56 632.5,63.46 632,63.35 631.5,63.25 631,63.14 630.5,63.04 630,62.94 629.5,62.84 629,62.74 628.5,62.63 628,62.53 627.5,62.43 627,62.33 626.5,62.24 626,62.14 625.5,62.04 625,61.94 624.5,61.84 624,61.75 623.5,61.65 623,61.56 622.5,61.46 622,61.37 621.5,61.27 621,61.18 620.5,61.09 620,60.99 619.5,60.9 619,60.81 618.5,60.72 618,60.63 617.5,60.54 617,60.45 616.5,60.36 616,60.27 615.5,60.18 615,60.09 614.5,60.01 614,59.92 613.5,59.83 613,59.75 612.5,59.66 612,59.58 611.5,59.48 611,59.38 610.5,59.28 610,59.19 609.5,59.09 609,58.99 608.5,58.9 608,58.8 607.5,58.71 607,58.62 606.5,58.52 606,58.43 605.5,58.34 605,58.24 604.5,58.15 604,58.06 603.5,57.97 603,57.88 602.5,57.79 602,57.7 601.5,57.61 601,57.52 600.5,57.43 600,57.34 599.5,57.25 599,57.17 598.5,57.08 598,56.99 597.5,56.91 597,56.82 596.5,56.73 596,56.65 595.5,56.56 595,56.48 594.5,56.4 594,56.31 593.5,56.23 593,56.15 592.5,56.06 592,55.98 591.5,55.9 591,55.82 590.5,55.74 590,55.66 589.5,55.58 589,55.5 588.5,55.42 588,55.34 587.5,55.26 587,55.18 586.5,55.1 586,55.02 585.5,54.94 585,54.87 584.5,54.79 584,54.71 583.5,54.64 583,54.56 582.5,54.49 582,54.41 581.5,54.34 581,54.26 580.5,54.19 580,54.13 579.5,54.06 579,54 578.5,53.93 578,53.86 577.5,53.8 577,53.73 576.5,53.67 576,53.61 575.5,53.54 575,53.48 574.5,53.42 574,53.35 573.5,53.29 573,53.23 572.5,53.17 572,53.11 571.5,53.04 571,52.98 570.5,52.92 570,52.86 569.5,52.8 569,52.74 568.5,52.68 568,52.62 567.5,52.56 567,52.51 566.5,52.45 566,52.39 565.5,52.33 565,52.27 564.5,52.22 564,52.16 563.5,52.1 563,52.05 562.5,51.99 562,51.93 561.5,51.88 561,51.82 560.5,51.77 560,51.71 559.5,51.66 559,51.6 558.5,51.55 558,51.5 557.5,51.44 557,51.39 556.5,51.34 556,51.28"/>
<line x1="721.4" y1="100.33" x2="721.4" y2="141.3" stroke="#6e6e6e" stroke-width="1.0"/>
<polyline fill="none" stroke="#ff0000" stroke-width="1.45" stroke-linejoin="round" points="555.6,50.96 556,50.98 556.4,51.01 556.8,51.04 557.2,51.06 557.6,51.09 558,51.12 558.4,51.14 558.8,51.17 559.2,51.2 559.6,51.23 560,51.25 560.4,51.28 560.8,51.31 561.2,51.34 561.6,51.37 562,51.39 562.4,51.42 562.8,51.45 563.2,51.48 563.6,51.51 564,51.54 564.4,51.57 564.8,51.6 565.2,51.63 565.6,51.66 566,51.69 566.4,51.72 566.8,51.75 567.2,51.78 567.6,51.81 568,51.84 568.4,51.87 568.8,51.91 569.2,51.94 569.6,51.97 570,52 570.4,52.03 570.8,52.07 571.2,52.1 571.6,52.13 572,52.17 572.4,52.2 572.8,52.23 573.2,52.27 573.6,52.3 574,52.33 574.4,52.37 574.8,52.4 575.2,52.44 575.6,52.47 576,52.51 576.4,52.54 576.8,52.58 577.2,52.61 577.6,52.65 578,52.68 578.4,52.72 578.8,52.76 579.2,52.79 579.6,52.83 580,52.87 580.4,52.9 580.8,52.94 581.2,52.98 581.6,53.02 582,53.06 582.4,53.09 582.8,53.13 583.2,53.17 583.6,53.21 584,53.25 584.4,53.29 584.8,53.33 585.2,53.37 585.6,53.41 586,53.45 586.4,53.49 586.8,53.53 587.2,53.57 587.6,53.61 588,53.65 588.4,53.69 588.8,53.74 589.2,53.78 589.6,53.82 590,53.86 590.4,53.9 590.8,53.95 591.2,53.99 591.6,54.03 592,54.08 592.4,54.12 592.8,54.17 593.2,54.21 593.6,54.25 594,54.3 594.4,54.34 594.8,54.39 595.2,54.44 595.6,54.48 596,54.53 596.4,54.57 596.8,54.62 597.2,54.67 597.6,54.71 598,54.76 598.4,54.81 598.8,54.86 599.2,54.9 599.6,54.95 600,55 600.4,55.05 600.8,55.1 601.2,55.15 601.6,55.2 602,55.25 602.4,55.3 602.8,55.35 603.2,55.4 603.6,55.45 604,55.5 604.4,55.55 604.8,55.6 605.2,55.65 605.6,55.71 606,55.76 606.4,55.81 606.8,55.86 607.2,55.92 607.6,55.97 608,56.02 608.4,56.08 608.8,56.13 609.2,56.19 609.6,56.24 610,56.3 610.4,56.35 610.8,56.41 611.2,56.46 611.6,56.52 612,56.58 612.4,56.63 612.8,56.69 613.2,56.75 613.6,56.8 614,56.86 614.4,56.92 614.8,56.98 615.2,57.04 615.6,57.1 616,57.16 616.4,57.22 616.8,57.28 617.2,57.34 617.6,57.4 618,57.46 618.4,57.52 618.8,57.58 619.2,57.64 619.6,57.7 620,57.77 620.4,57.83 620.8,57.89 621.2,57.95 621.6,58.02 622,58.08 622.4,58.15 622.8,58.21 623.2,58.27 623.6,58.34 624,58.41 624.4,58.47 624.8,58.54 625.2,58.6 625.6,58.67 626,58.74 626.4,58.8 626.8,58.87 627.2,58.94 627.6,59.01 628,59.08 628.4,59.15 628.8,59.21 629.2,59.28 629.6,59.35 630,59.42 630.4,59.5 630.8,59.57 631.2,59.64 631.6,59.71 632,59.78 632.4,59.85 632.8,59.93 633.2,60 633.6,60.07 634,60.15 634.4,60.22 634.8,60.29 635.2,60.37 635.6,60.44 636,60.52 636.4,60.6 636.8,60.67 637.2,60.75 637.6,60.82 638,60.9 638.4,60.98 638.8,61.06 639.2,61.14 639.6,61.21 640,61.29 640.4,61.37 640.8,61.45 641.2,61.53 641.6,61.61 642,61.69 642.4,61.78 642.8,61.86 643.2,61.94 643.6,62.02 644,62.1 644.4,62.19 644.8,62.27 645.2,62.36 645.6,62.44 646,62.52 646.4,62.61 646.8,62.7 647.2,62.78 647.6,62.87 648,62.96 648.4,63.04 648.8,63.13 649.2,63.22 649.6,63.31 650,63.4 650.4,63.48 650.8,63.57 651.2,63.66 651.6,63.76 652,63.85 652.4,63.94 652.8,64.03 653.2,64.12 653.6,64.22 654,64.31 654.4,64.4 654.8,64.5 655.2,64.59 655.6,64.69 656,64.78 656.4,64.88 656.8,64.97 657.2,65.07 657.6,65.17 658,65.27 658.4,65.36 658.8,65.46 659.2,65.56 659.6,65.66 660,65.76 660.4,65.86 660.8,65.96 661.2,66.07 661.6,66.17 662,66.27 662.4,66.37 662.8,66.48 663.2,66.58 663.6,66.69 664,66.79 664.4,66.9 664.8,67 665.2,67.11 665.6,67.22 666,67.33 666.4,67.43 666.8,67.54 667.2,67.65 667.6,67.76 668,67.87 668.4,67.98 668.8,68.1 669.2,68.21 669.6,68.32 670,68.43 670.4,68.55 670.8,68.66 671.2,68.78 671.6,68.89 672,69.01 672.4,69.13 672.8,69.24 673.2,69.36 673.6,69.48 674,69.6 674.4,69.72 674.8,69.84 675.2,69.96 675.6,70.09 676,70.21 676.4,70.33 676.8,70.46 677.2,70.58 677.6,70.71 678,70.83 678.4,70.96 678.8,71.09 679.2,71.21 679.6,71.34 680,71.47 680.4,71.6 680.8,71.73 681.18,71.86 681.56,71.98 681.94,72.11 682.32,72.24 682.7,72.37 683.08,72.49 683.46,72.62 683.84,72.75 684.22,72.88 684.6,73.02 684.98,73.15 685.36,73.28 685.74,73.41 686.12,73.55 686.5,73.68 686.88,73.82 687.26,73.96 687.64,74.09 688.02,74.23 688.4,74.37 688.78,74.51 689.16,74.65 689.54,74.79 689.92,74.94 690.3,75.08 690.68,75.22 691.06,75.37 691.44,75.51 691.82,75.66 692.2,75.81 692.58,75.96 692.96,76.11 693.34,76.26 693.72,76.41 694.1,76.56 694.48,76.71 694.86,76.87 695.24,77.02 695.62,77.18 696,77.34 696.38,77.5 696.76,77.66 697.14,77.82 697.52,77.98 697.9,78.14 698.28,78.31 698.66,78.47 699.04,78.64 699.42,78.8 699.8,78.97 700.18,79.14 700.56,79.31 700.94,79.48 701.32,79.66 701.7,79.83 702.08,80.01 702.46,80.19 702.84,80.36 703.22,80.54 703.6,80.73 703.98,80.91 704.34,81.08 704.7,81.26 705.06,81.44 705.42,81.61 705.78,81.79 706.14,81.97 706.5,82.16 706.86,82.34 707.22,82.53 707.58,82.71 707.94,82.9 708.3,83.09 708.66,83.28 709.02,83.47 709.38,83.67 709.74,83.87 710.1,84.06 710.46,84.26 710.82,84.46 711.18,84.67 711.54,84.87 711.9,85.08 712.26,85.29 712.62,85.5 712.98,85.71 713.34,85.92 713.7,86.14 714.06,86.36 714.42,86.58 714.78,86.8 715.12,87.01 715.46,87.23 715.8,87.44 716.14,87.66 716.48,87.88 716.82,88.1 717.16,88.33 717.5,88.55 717.84,88.78 718.18,89.01 718.52,89.25 718.86,89.48 719.2,89.72 719.54,89.96 719.88,90.21 720.22,90.45 720.56,90.7 720.9,90.95 721.24,91.21 721.56,91.45 721.88,91.7 722.2,91.94 722.52,92.19 722.84,92.45 723.16,92.7 723.48,92.96 723.8,93.23 724.12,93.49 724.44,93.76 724.76,94.03 725.08,94.31 725.4,94.59 725.7,94.85 726,95.12 726.3,95.39 726.6,95.67 726.9,95.95 727.2,96.23 727.5,96.52 727.8,96.81 728.1,97.1 728.4,97.4 728.7,97.7 728.98,97.99 729.26,98.28 729.54,98.57 729.82,98.87 730.1,99.17 730.38,99.47 730.66,99.79 730.94,100.1 731.22,100.42 731.5,100.75 731.76,101.05 732.02,101.36 732.28,101.68 732.54,102 732.8,102.33 733.06,102.66 733.32,102.99 733.58,103.33 733.82,103.65 734.06,103.98 734.3,104.31 734.54,104.65 734.78,104.99 735.02,105.33 735.26,105.69 735.5,106.05 735.72,106.38 735.94,106.72 736.16,107.07 736.38,107.42 736.6,107.78 736.82,108.14 737.04,108.51 737.26,108.89 737.46,109.24 737.66,109.6 737.86,109.96 738.06,110.33 738.26,110.71 738.46,111.09 738.66,111.48 738.84,111.84 739.02,112.21 739.2,112.58 739.38,112.96 739.56,113.34 739.74,113.74 739.92,114.14 740.1,114.55 740.26,114.92 740.42,115.3 740.58,115.69 740.74,116.08 740.9,116.48 741.06,116.89 741.22,117.31 741.38,117.74 741.52,118.12 741.66,118.51 741.8,118.91 741.94,119.32 742.08,119.73 742.22,120.16 742.36,120.59 742.5,121.04 742.62,121.42 742.74,121.82 742.86,122.22 742.98,122.64 743.1,123.06 743.22,123.49 743.34,123.93 743.46,124.38 743.58,124.84 743.68,125.24 743.78,125.64 743.88,126.05 743.98,126.47 744.08,126.9 744.18,127.34 744.28,127.79 744.38,128.24 744.48,128.72 744.58,129.2 744.66,129.59 744.74,130 744.82,130.41 744.9,130.83 744.98,131.26 745.06,131.7 745.14,132.15 745.22,132.61 745.3,133.09 745.38,133.57 745.46,134.07 745.54,134.58 745.62,135.11 745.68,135.51 745.74,135.92 745.8,136.34 745.86,136.77 745.92,137.22 745.98,137.67 746.04,138.13 746.1,138.61 746.16,139.09 746.22,139.59 746.28,140.1 746.34,140.63 746.4,141.17 746.42,141.3"/>
<path d="M555.6 46.27V56.86M581.5 47.6V58.64M612.2 49.03V60.6M625.8 50.59V62.77M630.3 52.31V65.2M632.4 54.22V67.96M638.2 56.37V71.15M648.1 58.83V74.95M651.3 61.71V79.6M670.8 65.2V85.62M711 69.61V94.09M721.5 75.68V108.44M747.9 85.62V141.3" stroke="#000" stroke-opacity="0.8" stroke-width="1.1" fill="none"/>
<g fill="#000"><circle cx="555.6" cy="50.82" r="1.25"/><circle cx="581.5" cy="52.31" r="1.25"/><circle cx="612.2" cy="53.93" r="1.25"/><circle cx="625.8" cy="55.7" r="1.25"/><circle cx="630.3" cy="57.66" r="1.25"/><circle cx="632.4" cy="59.85" r="1.25"/><circle cx="638.2" cy="62.33" r="1.25"/><circle cx="648.1" cy="65.2" r="1.25"/><circle cx="651.3" cy="68.58" r="1.25"/><circle cx="670.8" cy="72.73" r="1.25"/><circle cx="711" cy="78.08" r="1.25"/><circle cx="721.5" cy="85.62" r="1.25"/><circle cx="747.9" cy="98.5" r="1.25"/></g>
<text x="615" y="108.9" text-anchor="middle" style="font-family:'Liberation Serif',serif;font-size:13.6px" textLength="93.53" lengthAdjust="spacingAndGlyphs" fill="#000">IGR J18450-0435</text>
<text x="615" y="122.1" text-anchor="middle" style="font-family:'Liberation Serif',serif;font-size:13.6px" textLength="52.7" lengthAdjust="spacingAndGlyphs" fill="#000">(resolved)</text>
<line x1="622.33" y1="141.3" x2="622.33" y2="0.5" stroke="#ff3b3b" stroke-width="1.3" stroke-dasharray="3.2 1.5" stroke-dashoffset="3.3"/>
<g class="an" fill="#000"><text x="657.45" y="16.7" style="font-family:'Liberation Sans';font-style:italic;font-size:9.2px" textLength="5.9" lengthAdjust="spacingAndGlyphs">α</text><text x="663.4" y="18.3" style="font-family:'Liberation Sans';font-style:italic;font-size:6.3px" textLength="3.7" lengthAdjust="spacingAndGlyphs">x</text><text x="658.1" y="30.1" style="font-family:'Liberation Sans';font-style:italic;font-size:9.2px" textLength="5.4" lengthAdjust="spacingAndGlyphs">x</text><text x="663" y="31.8" style="font-family:'Liberation Sans',sans-serif;font-size:6px" textLength="3.4" lengthAdjust="spacingAndGlyphs">0</text><text x="669.34" y="16.7" style="font-family:'Liberation Sans',sans-serif;font-size:9.2px" textLength="6.93" lengthAdjust="spacingAndGlyphs">=</text><text x="677.9" y="16.7" style="font-family:'Liberation Sans',sans-serif;font-size:9.2px" textLength="19.59" lengthAdjust="spacingAndGlyphs">1.58</text><text x="699.69" y="16.7" style="font-family:'Liberation Sans',sans-serif;font-size:8.8px" textLength="6.6" lengthAdjust="spacingAndGlyphs">±</text><text x="708.39" y="16.7" style="font-family:'Liberation Sans',sans-serif;font-size:9.2px" textLength="19.59" lengthAdjust="spacingAndGlyphs">0.26</text><text x="668.44" y="30.1" style="font-family:'Liberation Sans',sans-serif;font-size:9.2px" textLength="6.93" lengthAdjust="spacingAndGlyphs">=</text><text x="677.9" y="30.1" style="font-family:'Liberation Sans',sans-serif;font-size:9.2px" textLength="30.78" lengthAdjust="spacingAndGlyphs">448.08</text><text x="710.88" y="30.1" style="font-family:'Liberation Sans',sans-serif;font-size:8.8px" textLength="6.6" lengthAdjust="spacingAndGlyphs">±</text><text x="719.58" y="30.1" style="font-family:'Liberation Sans',sans-serif;font-size:9.2px" textLength="30.78" lengthAdjust="spacingAndGlyphs">249.23</text></g>
<rect x="541.5" y="0.5" width="210.9" height="140.8" fill="none" stroke="#6a6a6a" stroke-width="1"/>
<path d="M541.5 141.3v2.6M578.86 141.3v1.5M600.71 141.3v1.5M616.22 141.3v1.5M628.24 141.3v1.5M638.07 141.3v1.5M646.38 141.3v1.5M653.57 141.3v1.5M659.92 141.3v1.5M665.6 141.3v2.6M702.96 141.3v1.5M724.81 141.3v1.5M740.32 141.3v1.5M752.34 141.3v1.5M541.5 141.3h-2.6M541.5 128.42h-1.5M541.5 120.88h-1.5M541.5 115.53h-1.5M541.5 111.38h-1.5M541.5 108h-1.5M541.5 105.13h-1.5M541.5 102.65h-1.5M541.5 100.46h-1.5M541.5 98.5h-2.6M541.5 85.62h-1.5M541.5 78.08h-1.5M541.5 72.73h-1.5M541.5 68.58h-1.5M541.5 65.2h-1.5M541.5 62.33h-1.5M541.5 59.85h-1.5M541.5 57.66h-1.5M541.5 55.7h-2.6M541.5 42.82h-1.5M541.5 35.28h-1.5M541.5 29.93h-1.5M541.5 25.78h-1.5M541.5 22.4h-1.5M541.5 19.53h-1.5M541.5 17.05h-1.5M541.5 14.86h-1.5M541.5 12.9h-2.6" stroke="#6a6a6a" stroke-width="0.8" fill="none"/>
<g style="font-family:'Liberation Sans',sans-serif;font-size:8.2px" fill="#000"><text x="541.5" y="151.3" text-anchor="middle">10<tspan dx="0.6" dy="-2.7" style="font-size:6.2px">2</tspan></text><text x="665.6" y="151.3" text-anchor="middle">10<tspan dx="0.6" dy="-2.7" style="font-size:6.2px">3</tspan></text><text x="536.3" y="144.3" text-anchor="end">10<tspan dx="0.6" dy="-2.7" style="font-size:6.2px">−1</tspan></text><text x="537.5" y="101.5" text-anchor="end">10<tspan dx="0.6" dy="-2.7" style="font-size:6.2px">0</tspan></text><text x="536.3" y="58.7" text-anchor="end">10<tspan dx="0.6" dy="-2.7" style="font-size:6.2px">1</tspan></text><text x="537.5" y="15.9" text-anchor="end">10<tspan dx="0.6" dy="-2.7" style="font-size:6.2px">2</tspan></text></g>
<text x="646.95" y="160.9" text-anchor="middle" style="font-family:'Liberation Sans',sans-serif;font-size:9px" textLength="53.6" lengthAdjust="spacingAndGlyphs" fill="#000">Duration (s)</text>
<text transform="translate(516.3,70.9) rotate(-90)" x="0" y="0" text-anchor="middle" style="font-family:'Liberation Sans',sans-serif;font-size:9px" textLength="88.7" lengthAdjust="spacingAndGlyphs" fill="#000">Number (&gt;Duration</text>
<polygon fill="#474747" stroke="#474747" stroke-width="0.3" points="126,208.96 126.5,209.1 127,209.25 127.5,209.39 128,209.54 128.5,209.68 129,209.83 129.5,209.98 130,210.14 130.5,210.29 131,210.45 131.5,210.61 132,210.77 132.5,210.93 133,211.09 133.5,211.26 134,211.43 134.5,211.6 135,211.77 135.5,211.95 136,212.12 136.5,212.3 137,212.48 137.5,212.66 138,212.85 138.5,213.03 139,213.22 139.5,213.41 140,213.61 140.5,213.8 141,214 141.5,214.2 142,214.4 142.5,214.6 143,214.81 143.5,215.02 144,215.23 144.5,215.44 145,215.65 145.5,215.88 146,216.1 146.5,216.33 147,216.55 147.5,216.78 148,217.02 148.5,217.25 149,217.49 149.5,217.73 150,217.97 150.5,218.22 151,218.47 151.5,218.71 152,218.97 152.5,219.22 153,219.48 153.5,219.74 154,220 154.5,220.27 155,220.53 155.5,220.8 156,221.08 156.5,221.35 157,221.63 157.5,221.91 158,222.2 158.5,222.48 159,222.77 159.5,223.06 160,223.36 160.5,223.67 161,223.99 161.5,224.31 162,224.63 162.5,224.95 163,225.28 163.5,225.61 164,225.94 164.5,226.28 165,226.62 165.5,226.96 166,227.31 166.5,227.66 167,228.02 167.5,228.37 168,228.73 168.5,229.1 169,229.47 169.5,229.84 170,230.21 170.5,230.59 171,230.98 171.5,231.36 172,231.76 172.5,232.15 173,232.55 173.5,232.96 174,233.36 174.5,233.78 175,234.19 175.5,234.62 176,235.04 176.5,235.48 177,235.92 177.5,236.36 178,236.81 178.5,237.26 179,237.72 179.5,238.19 180,238.66 180.5,239.13 181,239.62 181.5,240.11 182,240.61 182.5,241.11 183,241.62 183.5,242.14 184,242.67 184.5,243.21 185,243.75 185.5,244.31 186,244.87 186.5,245.44 187,246.02 187.3,246.38 187.3,249.68 187,249.32 186.5,248.74 186,248.16 185.5,247.59 185,247.04 184.5,246.49 184,245.95 183.5,245.42 183,244.89 182.5,244.38 182,243.87 181.5,243.37 181,242.87 180.5,242.38 180,241.9 179.5,241.43 179,240.96 178.5,240.5 178,240.04 177.5,239.59 177,239.14 176.5,238.7 176,238.26 175.5,237.83 175,237.4 174.5,236.98 174,236.57 173.5,236.15 173,235.75 172.5,235.34 172,234.94 171.5,234.55 171,234.16 170.5,233.77 170,233.39 169.5,233.01 169,232.63 168.5,232.26 168,231.89 167.5,231.53 167,231.17 166.5,230.81 166,230.46 165.5,230.11 165,229.76 164.5,229.41 164,229.07 163.5,228.74 163,228.4 162.5,228.07 162,227.74 161.5,227.42 161,227.09 160.5,226.77 160,226.46 159.5,226.14 159,225.82 158.5,225.51 158,225.2 157.5,224.9 157,224.59 156.5,224.29 156,223.99 155.5,223.69 155,223.4 154.5,223.11 154,222.82 153.5,222.54 153,222.25 152.5,221.97 152,221.69 151.5,221.42 151,221.15 150.5,220.87 150,220.61 149.5,220.34 149,220.08 148.5,219.82 148,219.56 147.5,219.3 147,219.05 146.5,218.8 146,218.55 145.5,218.3 145,218.05 144.5,217.81 144,217.57 143.5,217.34 143,217.1 142.5,216.87 142,216.64 141.5,216.41 141,216.19 140.5,215.96 140,215.74 139.5,215.52 139,215.31 138.5,215.09 138,214.88 137.5,214.67 137,214.46 136.5,214.25 136,214.05 135.5,213.85 135,213.64 134.5,213.45 134,213.25 133.5,213.05 133,212.86 132.5,212.67 132,212.48 131.5,212.3 131,212.11 130.5,211.93 130,211.75 129.5,211.57 129,211.39 128.5,211.21 128,211.04 127.5,210.87 127,210.7 126.5,210.53 126,210.36"/>
<line x1="187.3" y1="249.68" x2="187.3" y2="312.6" stroke="#6e6e6e" stroke-width="1.0"/>
<polyline fill="none" stroke="#ff0000" stroke-width="1.45" stroke-linejoin="round" points="62.6,199.63 63,199.65 63.4,199.67 63.8,199.7 64.2,199.72 64.6,199.74 65,199.77 65.4,199.79 65.8,199.82 66.2,199.84 66.6,199.87 67,199.9 67.4,199.92 67.8,199.95 68.2,199.98 68.6,200 69,200.03 69.4,200.06 69.8,200.09 70.2,200.12 70.6,200.15 71,200.17 71.4,200.2 71.8,200.23 72.2,200.27 72.6,200.3 73,200.33 73.4,200.36 73.8,200.39 74.2,200.42 74.6,200.46 75,200.49 75.4,200.52 75.8,200.56 76.2,200.59 76.6,200.63 77,200.66 77.4,200.7 77.8,200.73 78.2,200.77 78.6,200.81 79,200.84 79.4,200.88 79.8,200.92 80.2,200.96 80.6,201 81,201.04 81.4,201.08 81.8,201.12 82.2,201.16 82.6,201.2 83,201.24 83.4,201.28 83.8,201.33 84.2,201.37 84.6,201.41 85,201.46 85.4,201.5 85.8,201.55 86.2,201.59 86.6,201.64 87,201.69 87.4,201.74 87.8,201.78 88.2,201.83 88.6,201.88 89,201.93 89.4,201.98 89.8,202.03 90.2,202.08 90.6,202.14 91,202.19 91.4,202.24 91.8,202.3 92.2,202.35 92.6,202.41 93,202.46 93.4,202.52 93.8,202.57 94.2,202.63 94.6,202.69 95,202.75 95.4,202.81 95.8,202.87 96.2,202.93 96.6,202.99 97,203.05 97.4,203.12 97.8,203.18 98.2,203.24 98.6,203.31 99,203.37 99.4,203.44 99.8,203.51 100.2,203.57 100.6,203.64 101,203.71 101.4,203.78 101.8,203.85 102.2,203.92 102.6,204 103,204.07 103.4,204.14 103.8,204.22 104.2,204.29 104.6,204.37 105,204.45 105.4,204.52 105.8,204.6 106.2,204.68 106.6,204.76 107,204.84 107.4,204.92 107.8,205.01 108.2,205.09 108.6,205.17 109,205.26 109.4,205.35 109.8,205.43 110.2,205.52 110.6,205.61 111,205.7 111.4,205.79 111.8,205.88 112.2,205.97 112.6,206.07 113,206.16 113.4,206.26 113.8,206.35 114.2,206.45 114.6,206.55 115,206.65 115.4,206.74 115.8,206.85 116.2,206.95 116.6,207.05 117,207.15 117.4,207.26 117.8,207.36 118.2,207.47 118.6,207.58 119,207.69 119.4,207.8 119.8,207.91 120.2,208.02 120.6,208.13 121,208.25 121.4,208.36 121.8,208.48 122.2,208.6 122.6,208.71 123,208.83 123.4,208.95 123.8,209.08 124.2,209.2 124.6,209.32 125,209.45 125.4,209.57 125.8,209.7 126.2,209.83 126.6,209.96 127,210.09 127.38,210.21 127.76,210.34 128.14,210.47 128.52,210.59 128.9,210.72 129.28,210.85 129.66,210.99 130.04,211.12 130.42,211.25 130.8,211.39 131.18,211.52 131.56,211.66 131.94,211.8 132.32,211.94 132.7,212.08 133.08,212.22 133.46,212.36 133.84,212.5 134.22,212.65 134.6,212.79 134.98,212.94 135.36,213.09 135.74,213.24 136.12,213.39 136.5,213.54 136.88,213.69 137.26,213.85 137.64,214 138.02,214.16 138.4,214.32 138.78,214.48 139.16,214.64 139.54,214.8 139.92,214.96 140.3,215.13 140.68,215.29 141.06,215.46 141.44,215.62 141.82,215.79 142.2,215.96 142.58,216.13 142.96,216.31 143.34,216.48 143.72,216.66 144.1,216.83 144.48,217.01 144.86,217.19 145.24,217.37 145.62,217.55 146,217.73 146.36,217.91 146.72,218.08 147.08,218.26 147.44,218.44 147.8,218.62 148.16,218.8 148.52,218.98 148.88,219.16 149.24,219.35 149.6,219.53 149.96,219.72 150.32,219.91 150.68,220.1 151.04,220.29 151.4,220.48 151.76,220.67 152.12,220.87 152.48,221.06 152.84,221.26 153.2,221.46 153.56,221.66 153.92,221.86 154.28,222.06 154.64,222.26 155,222.47 155.36,222.67 155.72,222.88 156.08,223.09 156.44,223.3 156.8,223.51 157.16,223.73 157.52,223.94 157.88,224.16 158.24,224.37 158.6,224.59 158.96,224.81 159.32,225.03 159.66,225.25 160,225.46 160.34,225.67 160.68,225.89 161.02,226.1 161.36,226.32 161.7,226.54 162.04,226.76 162.38,226.98 162.72,227.2 163.06,227.43 163.4,227.66 163.74,227.88 164.08,228.11 164.42,228.34 164.76,228.57 165.1,228.81 165.44,229.04 165.78,229.28 166.12,229.52 166.46,229.76 166.8,230 167.14,230.24 167.48,230.49 167.82,230.73 168.16,230.98 168.5,231.23 168.84,231.48 169.18,231.73 169.52,231.99 169.84,232.23 170.16,232.47 170.48,232.72 170.8,232.96 171.12,233.21 171.44,233.46 171.76,233.71 172.08,233.96 172.4,234.22 172.72,234.47 173.04,234.73 173.36,234.99 173.68,235.25 174,235.51 174.32,235.78 174.64,236.05 174.96,236.32 175.28,236.59 175.6,236.86 175.92,237.13 176.24,237.41 176.56,237.69 176.88,237.97 177.18,238.24 177.48,238.5 177.78,238.77 178.08,239.04 178.38,239.32 178.68,239.59 178.98,239.87 179.28,240.15 179.58,240.43 179.88,240.72 180.18,241 180.48,241.29 180.78,241.58 181.08,241.87 181.38,242.17 181.68,242.47 181.98,242.77 182.28,243.07 182.58,243.38 182.86,243.66 183.14,243.95 183.42,244.25 183.7,244.54 183.98,244.84 184.26,245.14 184.54,245.44 184.82,245.75 185.1,246.05 185.38,246.37 185.66,246.68 185.94,247 186.22,247.32 186.5,247.64 186.78,247.96 187.04,248.27 187.3,248.58 187.56,248.89 187.82,249.2 188.08,249.52 188.34,249.84 188.6,250.16 188.86,250.49 189.12,250.82 189.38,251.16 189.64,251.49 189.9,251.83 190.16,252.18 190.4,252.5 190.64,252.83 190.88,253.15 191.12,253.49 191.36,253.82 191.6,254.16 191.84,254.5 192.08,254.85 192.32,255.2 192.56,255.56 192.8,255.92 193.04,256.28 193.26,256.62 193.48,256.96 193.7,257.31 193.92,257.66 194.14,258.02 194.36,258.38 194.58,258.74 194.8,259.11 195.02,259.48 195.24,259.86 195.44,260.21 195.64,260.56 195.84,260.92 196.04,261.28 196.24,261.65 196.44,262.02 196.64,262.4 196.84,262.79 197.04,263.18 197.24,263.57 197.42,263.93 197.6,264.3 197.78,264.67 197.96,265.04 198.14,265.43 198.32,265.81 198.5,266.21 198.68,266.61 198.86,267.02 199.02,267.38 199.18,267.76 199.34,268.13 199.5,268.52 199.66,268.91 199.82,269.3 199.98,269.71 200.14,270.12 200.3,270.53 200.46,270.96 200.6,271.34 200.74,271.72 200.88,272.11 201.02,272.51 201.16,272.91 201.3,273.32 201.44,273.74 201.58,274.17 201.72,274.6 201.86,275.04 201.98,275.43 202.1,275.82 202.22,276.22 202.34,276.63 202.46,277.04 202.58,277.46 202.7,277.89 202.82,278.33 202.94,278.78 203.06,279.24 203.16,279.62 203.26,280.02 203.36,280.42 203.46,280.83 203.56,281.25 203.66,281.67 203.76,282.11 203.86,282.55 203.96,283 204.06,283.46 204.16,283.94 204.26,284.42 204.34,284.82 204.42,285.22 204.5,285.63 204.58,286.05 204.66,286.47 204.74,286.91 204.82,287.35 204.9,287.81 204.98,288.27 205.06,288.75 205.14,289.23 205.22,289.73 205.3,290.24 205.38,290.77 205.44,291.17 205.5,291.58 205.56,292 205.62,292.42 205.68,292.86 205.74,293.31 205.8,293.76 205.86,294.23 205.92,294.71 205.98,295.2 206.04,295.7 206.1,296.21 206.16,296.74 206.22,297.28 206.28,297.84 206.34,298.41 206.4,299.01 206.44,299.41 206.48,299.82 206.52,300.24 206.56,300.67 206.6,301.11 206.64,301.56 206.68,302.03 206.72,302.5 206.76,302.98 206.8,303.48 206.84,303.99 206.88,304.51 206.92,305.05 206.96,305.6 207,306.17 207.04,306.75 207.08,307.36 207.12,307.98 207.16,308.62 207.2,309.29 207.24,309.98 207.28,310.7 207.32,311.44 207.36,312.21 207.38,312.6"/>
<path d="M62.6 196.87V202.43M71.6 197.26V202.88M89.5 197.65V203.35M95.9 198.06V203.82M110.8 198.48V204.31M113 198.9V204.81M118.2 199.34V205.32M118.7 199.79V205.85M119.2 200.25V206.39M120.4 200.72V206.95M120.9 201.2V207.53M121.5 201.7V208.12M122.7 202.21V208.73M123.2 202.74V209.36M123.7 203.28V210.01M124.8 203.84V210.68M126 204.42V211.38M126.5 205.02V212.11M128.2 205.64V212.86M129.4 206.28V213.64M130.7 206.95V214.46M131.2 207.64V215.31M137.4 208.36V216.2M138.2 209.12V217.14M139 209.9V218.12M139.8 210.72V219.15M140.9 211.59V220.24M142.1 212.49V221.39M143.2 213.45V222.62M144.2 214.46V223.92M145.4 215.54V225.32M147.4 216.68V226.83M149.2 217.91V228.46M151 219.23V230.23M152.6 220.65V232.18M153.8 222.21V234.34M155.2 223.92V236.76M156.2 225.83V239.51M165.1 227.97V242.7M172.5 230.42V246.48M173.6 233.29V251.12M176.5 236.76V257.11M181 241.16V265.55M187.2 247.21V279.86M208.8 262.07V283.01" stroke="#000" stroke-opacity="0.8" stroke-width="1.1" fill="none"/>
<g fill="#000"><circle cx="62.6" cy="199.44" r="1.25"/><circle cx="71.6" cy="199.86" r="1.25"/><circle cx="89.5" cy="200.28" r="1.25"/><circle cx="95.9" cy="200.72" r="1.25"/><circle cx="110.8" cy="201.16" r="1.25"/><circle cx="113" cy="201.62" r="1.25"/><circle cx="118.2" cy="202.09" r="1.25"/><circle cx="118.7" cy="202.57" r="1.25"/><circle cx="119.2" cy="203.07" r="1.25"/><circle cx="120.4" cy="203.57" r="1.25"/><circle cx="120.9" cy="204.1" r="1.25"/><circle cx="121.5" cy="204.63" r="1.25"/><circle cx="122.7" cy="205.19" r="1.25"/><circle cx="123.2" cy="205.76" r="1.25"/><circle cx="123.7" cy="206.34" r="1.25"/><circle cx="124.8" cy="206.95" r="1.25"/><circle cx="126" cy="207.58" r="1.25"/><circle cx="126.5" cy="208.23" r="1.25"/><circle cx="128.2" cy="208.9" r="1.25"/><circle cx="129.4" cy="209.6" r="1.25"/><circle cx="130.7" cy="210.33" r="1.25"/><circle cx="131.2" cy="211.08" r="1.25"/><circle cx="137.4" cy="211.87" r="1.25"/><circle cx="138.2" cy="212.7" r="1.25"/><circle cx="139" cy="213.56" r="1.25"/><circle cx="139.8" cy="214.46" r="1.25"/><circle cx="140.9" cy="215.41" r="1.25"/><circle cx="142.1" cy="216.41" r="1.25"/><circle cx="143.2" cy="217.47" r="1.25"/><circle cx="144.2" cy="218.59" r="1.25"/><circle cx="145.4" cy="219.79" r="1.25"/><circle cx="147.4" cy="221.07" r="1.25"/><circle cx="149.2" cy="222.44" r="1.25"/><circle cx="151" cy="223.92" r="1.25"/><circle cx="152.6" cy="225.53" r="1.25"/><circle cx="153.8" cy="227.3" r="1.25"/><circle cx="155.2" cy="229.25" r="1.25"/><circle cx="156.2" cy="231.43" r="1.25"/><circle cx="165.1" cy="233.91" r="1.25"/><circle cx="172.5" cy="236.76" r="1.25"/><circle cx="173.6" cy="240.14" r="1.25"/><circle cx="176.5" cy="244.27" r="1.25"/><circle cx="181" cy="249.6" r="1.25"/><circle cx="187.2" cy="257.11" r="1.25"/><circle cx="208.8" cy="269.95" r="1.25"/></g>
<text x="99.8" y="281.1" text-anchor="middle" style="font-family:'Liberation Serif',serif;font-size:13.6px" textLength="93.53" lengthAdjust="spacingAndGlyphs" fill="#000">IGR J16418-4532</text>
<text x="99.8" y="294.3" text-anchor="middle" style="font-family:'Liberation Serif',serif;font-size:13.6px" textLength="21.65" lengthAdjust="spacingAndGlyphs" fill="#000">(all)</text>
<line x1="126.46" y1="312.6" x2="126.46" y2="172" stroke="#ff3b3b" stroke-width="1.3" stroke-dasharray="3.2 1.5" stroke-dashoffset="3.3"/>
<g class="an" fill="#000"><text x="148.15" y="188.2" style="font-family:'Liberation Sans';font-style:italic;font-size:9.2px" textLength="5.9" lengthAdjust="spacingAndGlyphs">α</text><text x="154.1" y="189.8" style="font-family:'Liberation Sans';font-style:italic;font-size:6.3px" textLength="3.7" lengthAdjust="spacingAndGlyphs">x</text><text x="148.8" y="201.6" style="font-family:'Liberation Sans';font-style:italic;font-size:9.2px" textLength="5.4" lengthAdjust="spacingAndGlyphs">x</text><text x="153.7" y="203.3" style="font-family:'Liberation Sans',sans-serif;font-size:6px" textLength="3.4" lengthAdjust="spacingAndGlyphs">0</text><text x="160.04" y="188.2" style="font-family:'Liberation Sans',sans-serif;font-size:9.2px" textLength="6.93" lengthAdjust="spacingAndGlyphs">=</text><text x="168.6" y="188.2" style="font-family:'Liberation Sans',sans-serif;font-size:9.2px" textLength="19.59" lengthAdjust="spacingAndGlyphs">1.95</text><text x="190.39" y="188.2" style="font-family:'Liberation Sans',sans-serif;font-size:8.8px" textLength="6.6" lengthAdjust="spacingAndGlyphs">±</text><text x="199.09" y="188.2" style="font-family:'Liberation Sans',sans-serif;font-size:9.2px" textLength="19.59" lengthAdjust="spacingAndGlyphs">0.07</text><text x="159.14" y="201.6" style="font-family:'Liberation Sans',sans-serif;font-size:9.2px" textLength="6.93" lengthAdjust="spacingAndGlyphs">=</text><text x="168.6" y="201.6" style="font-family:'Liberation Sans',sans-serif;font-size:9.2px" textLength="30.78" lengthAdjust="spacingAndGlyphs">218.24</text><text x="201.58" y="201.6" style="font-family:'Liberation Sans',sans-serif;font-size:8.8px" textLength="6.6" lengthAdjust="spacingAndGlyphs">±</text><text x="210.28" y="201.6" style="font-family:'Liberation Sans',sans-serif;font-size:9.2px" textLength="25.19" lengthAdjust="spacingAndGlyphs">26.79</text></g>
<rect x="32.2" y="172" width="211.2" height="140.6" fill="none" stroke="#6a6a6a" stroke-width="1"/>
<path d="M32.2 312.6v2.6M53.39 312.6v1.5M65.79 312.6v1.5M74.59 312.6v1.5M81.41 312.6v1.5M86.98 312.6v1.5M91.69 312.6v1.5M95.78 312.6v1.5M99.38 312.6v1.5M102.6 312.6v2.6M123.79 312.6v1.5M136.19 312.6v1.5M144.99 312.6v1.5M151.81 312.6v1.5M157.38 312.6v1.5M162.09 312.6v1.5M166.18 312.6v1.5M169.78 312.6v1.5M173 312.6v2.6M194.19 312.6v1.5M206.59 312.6v1.5M215.39 312.6v1.5M222.21 312.6v1.5M227.78 312.6v1.5M232.49 312.6v1.5M236.58 312.6v1.5M240.18 312.6v1.5M243.4 312.6v2.6M32.2 312.6h-2.6M32.2 299.76h-1.5M32.2 292.25h-1.5M32.2 286.92h-1.5M32.2 282.79h-1.5M32.2 279.41h-1.5M32.2 276.56h-1.5M32.2 274.08h-1.5M32.2 271.9h-1.5M32.2 269.95h-2.6M32.2 257.11h-1.5M32.2 249.6h-1.5M32.2 244.27h-1.5M32.2 240.14h-1.5M32.2 236.76h-1.5M32.2 233.91h-1.5M32.2 231.43h-1.5M32.2 229.25h-1.5M32.2 227.3h-2.6M32.2 214.46h-1.5M32.2 206.95h-1.5M32.2 201.62h-1.5M32.2 197.49h-1.5M32.2 194.11h-1.5M32.2 191.26h-1.5M32.2 188.78h-1.5M32.2 186.6h-1.5M32.2 184.65h-2.6" stroke="#6a6a6a" stroke-width="0.8" fill="none"/>
<g style="font-family:'Liberation Sans',sans-serif;font-size:8.2px" fill="#000"><text x="32.2" y="322.6" text-anchor="middle">10<tspan dx="0.6" dy="-2.7" style="font-size:6.2px">1</tspan></text><text x="102.6" y="322.6" text-anchor="middle">10<tspan dx="0.6" dy="-2.7" style="font-size:6.2px">2</tspan></text><text x="173" y="322.6" text-anchor="middle">10<tspan dx="0.6" dy="-2.7" style="font-size:6.2px">3</tspan></text><text x="243.4" y="322.6" text-anchor="middle">10<tspan dx="0.6" dy="-2.7" style="font-size:6.2px">4</tspan></text><text x="27" y="315.6" text-anchor="end">10<tspan dx="0.6" dy="-2.7" style="font-size:6.2px">−1</tspan></text><text x="28.2" y="272.95" text-anchor="end">10<tspan dx="0.6" dy="-2.7" style="font-size:6.2px">0</tspan></text><text x="27" y="230.3" text-anchor="end">10<tspan dx="0.6" dy="-2.7" style="font-size:6.2px">1</tspan></text><text x="28.2" y="187.65" text-anchor="end">10<tspan dx="0.6" dy="-2.7" style="font-size:6.2px">2</tspan></text></g>
<text x="137.8" y="332.2" text-anchor="middle" style="font-family:'Liberation Sans',sans-serif;font-size:9px" textLength="53.6" lengthAdjust="spacingAndGlyphs" fill="#000">Duration (s)</text>
<text transform="translate(7,242.3) rotate(-90)" x="0" y="0" text-anchor="middle" style="font-family:'Liberation Sans',sans-serif;font-size:9px" textLength="91.3" lengthAdjust="spacingAndGlyphs" fill="#000">Number (&gt;Duration)</text>
<polygon fill="#474747" stroke="#474747" stroke-width="0.3" points="341,214.48 341.5,214.55 342,214.62 342.5,214.68 343,214.75 343.5,214.82 344,214.88 344.5,214.95 345,215.02 345.5,215.09 346,215.16 346.5,215.23 347,215.3 347.5,215.37 348,215.44 348.5,215.52 349,215.59 349.5,215.66 350,215.73 350.5,215.81 351,215.88 351.5,215.96 352,216.03 352.5,216.11 353,216.19 353.5,216.26 354,216.34 354.5,216.42 355,216.5 355.5,216.57 356,216.65 356.5,216.73 357,216.81 357.5,216.89 358,216.98 358.5,217.06 359,217.14 359.5,217.22 360,217.31 360.5,217.39 361,217.47 361.5,217.56 362,217.64 362.5,217.73 363,217.82 363.5,217.9 364,217.99 364.5,218.08 365,218.17 365.5,218.26 366,218.35 366.5,218.44 367,218.53 367.5,218.62 368,218.71 368.5,218.81 369,218.9 369.5,218.99 370,219.09 370.5,219.17 371,219.24 371.5,219.32 372,219.4 372.5,219.48 373,219.56 373.5,219.64 374,219.72 374.5,219.81 375,219.89 375.5,219.97 376,220.06 376.5,220.14 377,220.22 377.5,220.31 378,220.4 378.5,220.48 379,220.57 379.5,220.66 380,220.75 380.5,220.84 381,220.93 381.5,221.02 382,221.11 382.5,221.21 383,221.3 383.5,221.39 384,221.49 384.5,221.58 385,221.68 385.5,221.78 386,221.88 386.5,221.97 387,222.07 387.5,222.17 388,222.27 388.5,222.37 389,222.48 389.5,222.58 390,222.68 390.5,222.79 391,222.89 391.5,223 392,223.11 392.5,223.22 393,223.32 393.5,223.43 394,223.54 394.5,223.65 395,223.77 395.5,223.89 396,224.02 396.5,224.15 397,224.28 397.5,224.41 398,224.54 398.5,224.67 399,224.8 399.5,224.94 400,225.07 400.5,225.2 401,225.34 401.5,225.48 402,225.62 402.5,225.76 403,225.9 403.5,226.04 404,226.18 404.5,226.32 405,226.47 405.5,226.61 406,226.76 406.5,226.91 407,227.06 407.5,227.21 408,227.36 408.5,227.51 409,227.66 409.5,227.82 410,227.97 410.5,228.13 411,228.29 411.5,228.45 412,228.61 412.5,228.77 413,228.93 413.5,229.1 414,229.26 414.5,229.43 415,229.6 415.5,229.77 416,229.94 416.5,230.11 417,230.29 417.5,230.46 418,230.64 418.5,230.82 419,231 419.5,231.18 420,231.37 420.5,231.55 421,231.74 421.5,231.93 422,232.12 422.5,232.31 423,232.51 423.5,232.7 424,232.9 424.5,233.1 425,233.3 425.5,233.5 426,233.71 426.5,233.92 427,234.13 427.5,234.34 428,234.55 428.5,234.77 429,234.98 429.5,235.2 430,235.43 430.5,235.65 431,235.88 431.5,236.11 432,236.34 432.5,236.57 433,236.81 433.5,237.05 434,237.29 434.5,237.53 435,237.78 435.5,238.03 436,238.28 436.5,238.54 437,238.8 437.5,239.06 438,239.33 438.5,239.59 439,239.87 439.5,240.14 440,240.42 440.5,240.7 441,240.99 441,247.59 440.5,247.29 440,246.99 439.5,246.69 439,246.4 438.5,246.12 438,245.83 437.5,245.55 437,245.27 436.5,245 436,244.73 435.5,244.46 435,244.19 434.5,243.93 434,243.67 433.5,243.41 433,243.15 432.5,242.9 432,242.65 431.5,242.4 431,242.16 430.5,241.92 430,241.68 429.5,241.44 429,241.2 428.5,240.97 428,240.74 427.5,240.51 427,240.28 426.5,240.06 426,239.83 425.5,239.61 425,239.39 424.5,239.18 424,238.96 423.5,238.75 423,238.54 422.5,238.33 422,238.12 421.5,237.91 421,237.71 420.5,237.5 420,237.3 419.5,237.1 419,236.9 418.5,236.7 418,236.49 417.5,236.28 417,236.08 416.5,235.87 416,235.67 415.5,235.47 415,235.27 414.5,235.07 414,234.88 413.5,234.68 413,234.49 412.5,234.3 412,234.1 411.5,233.91 411,233.73 410.5,233.54 410,233.35 409.5,233.17 409,232.98 408.5,232.8 408,232.62 407.5,232.44 407,232.26 406.5,232.08 406,231.9 405.5,231.73 405,231.55 404.5,231.38 404,231.21 403.5,231.04 403,230.87 402.5,230.7 402,230.53 401.5,230.36 401,230.19 400.5,230.03 400,229.86 399.5,229.7 399,229.54 398.5,229.37 398,229.21 397.5,229.05 397,228.89 396.5,228.74 396,228.58 395.5,228.42 395,228.27 394.5,228.11 394,227.95 393.5,227.8 393,227.64 392.5,227.49 392,227.33 391.5,227.18 391,227.03 390.5,226.87 390,226.72 389.5,226.57 389,226.43 388.5,226.28 388,226.13 387.5,225.98 387,225.84 386.5,225.69 386,225.55 385.5,225.4 385,225.26 384.5,225.12 384,224.98 383.5,224.84 383,224.7 382.5,224.56 382,224.42 381.5,224.28 381,224.14 380.5,224.01 380,223.87 379.5,223.73 379,223.6 378.5,223.47 378,223.33 377.5,223.2 377,223.07 376.5,222.94 376,222.81 375.5,222.68 375,222.55 374.5,222.42 374,222.29 373.5,222.16 373,222.04 372.5,221.91 372,221.78 371.5,221.66 371,221.54 370.5,221.41 370,221.29 369.5,221.17 369,221.06 368.5,220.94 368,220.83 367.5,220.72 367,220.61 366.5,220.49 366,220.38 365.5,220.27 365,220.16 364.5,220.05 364,219.94 363.5,219.84 363,219.73 362.5,219.62 362,219.51 361.5,219.41 361,219.3 360.5,219.2 360,219.09 359.5,218.99 359,218.88 358.5,218.78 358,218.68 357.5,218.58 357,218.48 356.5,218.37 356,218.27 355.5,218.17 355,218.07 354.5,217.98 354,217.88 353.5,217.78 353,217.68 352.5,217.58 352,217.49 351.5,217.39 351,217.3 350.5,217.2 350,217.11 349.5,217.01 349,216.92 348.5,216.83 348,216.73 347.5,216.64 347,216.55 346.5,216.46 346,216.37 345.5,216.28 345,216.19 344.5,216.1 344,216.01 343.5,215.92 343,215.83 342.5,215.74 342,215.66 341.5,215.57 341,215.48"/>
<line x1="441" y1="247.59" x2="441" y2="312.6" stroke="#6e6e6e" stroke-width="1.0"/>
<polyline fill="none" stroke="#ff0000" stroke-width="1.45" stroke-linejoin="round" points="329,213.24 329.4,213.3 329.8,213.35 330.2,213.41 330.6,213.46 331,213.52 331.4,213.57 331.8,213.63 332.2,213.68 332.6,213.74 333,213.8 333.4,213.85 333.8,213.91 334.2,213.97 334.6,214.03 335,214.08 335.4,214.14 335.8,214.2 336.2,214.26 336.6,214.32 337,214.38 337.4,214.44 337.8,214.5 338.2,214.56 338.6,214.62 339,214.68 339.4,214.74 339.8,214.8 340.2,214.86 340.6,214.92 341,214.98 341.4,215.05 341.8,215.11 342.2,215.17 342.6,215.23 343,215.3 343.4,215.36 343.8,215.42 344.2,215.49 344.6,215.55 345,215.62 345.4,215.68 345.8,215.75 346.2,215.81 346.6,215.88 347,215.95 347.4,216.01 347.8,216.08 348.2,216.15 348.6,216.21 349,216.28 349.4,216.35 349.8,216.42 350.2,216.49 350.6,216.56 351,216.62 351.4,216.69 351.8,216.76 352.2,216.83 352.6,216.9 353,216.97 353.4,217.05 353.8,217.12 354.2,217.19 354.6,217.26 355,217.33 355.4,217.41 355.8,217.48 356.2,217.55 356.6,217.63 357,217.7 357.4,217.77 357.8,217.85 358.2,217.92 358.6,218 359,218.07 359.4,218.15 359.8,218.23 360.2,218.3 360.6,218.38 361,218.46 361.4,218.53 361.8,218.61 362.2,218.69 362.6,218.77 363,218.85 363.4,218.93 363.8,219.01 364.2,219.09 364.6,219.17 365,219.25 365.4,219.33 365.8,219.41 366.2,219.49 366.6,219.58 367,219.66 367.4,219.74 367.8,219.82 368.2,219.91 368.6,219.99 369,220.08 369.4,220.16 369.8,220.25 370.2,220.33 370.6,220.42 371,220.5 371.4,220.59 371.8,220.68 372.2,220.76 372.6,220.85 373,220.94 373.4,221.03 373.8,221.12 374.2,221.21 374.6,221.3 375,221.39 375.4,221.48 375.8,221.57 376.2,221.66 376.6,221.75 377,221.84 377.4,221.94 377.8,222.03 378.2,222.12 378.6,222.22 379,222.31 379.4,222.41 379.8,222.5 380.2,222.6 380.6,222.69 381,222.79 381.4,222.89 381.8,222.99 382.2,223.08 382.6,223.18 383,223.28 383.4,223.38 383.8,223.48 384.2,223.58 384.6,223.68 385,223.78 385.4,223.88 385.8,223.98 386.2,224.09 386.6,224.19 387,224.29 387.4,224.4 387.8,224.5 388.2,224.61 388.6,224.71 389,224.82 389.4,224.92 389.8,225.03 390.2,225.14 390.6,225.25 391,225.35 391.4,225.46 391.8,225.57 392.2,225.68 392.6,225.79 393,225.9 393.4,226.02 393.8,226.13 394.2,226.24 394.6,226.35 395,226.47 395.4,226.58 395.8,226.7 396.2,226.81 396.6,226.93 397,227.04 397.4,227.16 397.8,227.28 398.2,227.4 398.6,227.52 399,227.64 399.4,227.76 399.8,227.88 400.2,228 400.6,228.12 401,228.24 401.4,228.37 401.8,228.49 402.2,228.61 402.6,228.74 403,228.86 403.4,228.99 403.8,229.12 404.2,229.25 404.6,229.37 405,229.5 405.4,229.63 405.8,229.76 406.2,229.89 406.58,230.02 406.96,230.14 407.34,230.27 407.72,230.4 408.1,230.53 408.48,230.65 408.86,230.78 409.24,230.91 409.62,231.04 410,231.18 410.38,231.31 410.76,231.44 411.14,231.57 411.52,231.71 411.9,231.84 412.28,231.98 412.66,232.11 413.04,232.25 413.42,232.39 413.8,232.53 414.18,232.67 414.56,232.81 414.94,232.95 415.32,233.09 415.7,233.23 416.08,233.37 416.46,233.52 416.84,233.66 417.22,233.81 417.6,233.96 417.98,234.1 418.36,234.25 418.74,234.4 419.12,234.55 419.5,234.7 419.88,234.85 420.26,235.01 420.64,235.16 421.02,235.31 421.4,235.47 421.78,235.63 422.16,235.78 422.54,235.94 422.92,236.1 423.3,236.26 423.68,236.42 424.06,236.59 424.44,236.75 424.82,236.92 425.2,237.08 425.58,237.25 425.96,237.42 426.34,237.59 426.72,237.76 427.1,237.93 427.48,238.1 427.86,238.27 428.24,238.45 428.62,238.63 429,238.8 429.38,238.98 429.76,239.16 430.14,239.34 430.52,239.53 430.88,239.7 431.24,239.88 431.6,240.05 431.96,240.23 432.32,240.41 432.68,240.59 433.04,240.77 433.4,240.96 433.76,241.14 434.12,241.33 434.48,241.52 434.84,241.71 435.2,241.9 435.56,242.09 435.92,242.28 436.28,242.48 436.64,242.67 437,242.87 437.36,243.07 437.72,243.27 438.08,243.48 438.44,243.68 438.8,243.89 439.16,244.1 439.52,244.31 439.88,244.52 440.24,244.73 440.6,244.95 440.96,245.17 441.32,245.39 441.68,245.61 442.02,245.82 442.36,246.03 442.7,246.25 443.04,246.46 443.38,246.68 443.72,246.9 444.06,247.13 444.4,247.35 444.74,247.58 445.08,247.81 445.42,248.04 445.76,248.28 446.1,248.51 446.44,248.75 446.78,248.99 447.12,249.24 447.46,249.48 447.8,249.73 448.14,249.99 448.48,250.24 448.8,250.48 449.12,250.73 449.44,250.97 449.76,251.22 450.08,251.48 450.4,251.73 450.72,251.99 451.04,252.25 451.36,252.52 451.68,252.79 452,253.06 452.32,253.33 452.64,253.61 452.96,253.89 453.26,254.16 453.56,254.43 453.86,254.7 454.16,254.98 454.46,255.26 454.76,255.54 455.06,255.83 455.36,256.12 455.66,256.41 455.96,256.71 456.26,257.01 456.54,257.3 456.82,257.59 457.1,257.88 457.38,258.18 457.66,258.49 457.94,258.79 458.22,259.1 458.5,259.42 458.78,259.74 459.06,260.06 459.32,260.37 459.58,260.68 459.84,260.99 460.1,261.31 460.36,261.64 460.62,261.97 460.88,262.3 461.14,262.64 461.4,262.99 461.64,263.31 461.88,263.64 462.12,263.98 462.36,264.32 462.6,264.66 462.84,265.01 463.08,265.37 463.32,265.73 463.54,266.07 463.76,266.42 463.98,266.77 464.2,267.12 464.42,267.49 464.64,267.86 464.86,268.23 465.06,268.58 465.26,268.93 465.46,269.29 465.66,269.66 465.86,270.03 466.06,270.41 466.26,270.8 466.46,271.19 466.64,271.55 466.82,271.92 467,272.3 467.18,272.68 467.36,273.07 467.54,273.47 467.72,273.87 467.88,274.24 468.04,274.61 468.2,274.99 468.36,275.38 468.52,275.78 468.68,276.18 468.84,276.6 469,277.02 469.14,277.39 469.28,277.78 469.42,278.17 469.56,278.57 469.7,278.97 469.84,279.39 469.98,279.82 470.12,280.25 470.26,280.69 470.38,281.08 470.5,281.48 470.62,281.88 470.74,282.3 470.86,282.72 470.98,283.15 471.1,283.59 471.22,284.04 471.34,284.51 471.44,284.9 471.54,285.3 471.64,285.71 471.74,286.13 471.84,286.56 471.94,287 472.04,287.45 472.14,287.91 472.24,288.38 472.34,288.86 472.42,289.26 472.5,289.66 472.58,290.07 472.66,290.49 472.74,290.92 472.82,291.36 472.9,291.81 472.98,292.27 473.06,292.75 473.14,293.23 473.22,293.73 473.3,294.24 473.38,294.76 473.44,295.17 473.5,295.58 473.56,296 473.62,296.43 473.68,296.87 473.74,297.32 473.8,297.79 473.86,298.26 473.92,298.75 473.98,299.24 474.04,299.76 474.1,300.28 474.16,300.82 474.22,301.38 474.28,301.95 474.34,302.55 474.38,302.95 474.42,303.37 474.46,303.79 474.5,304.22 474.54,304.67 474.58,305.12 474.62,305.59 474.66,306.06 474.7,306.55 474.74,307.06 474.78,307.57 474.82,308.11 474.86,308.65 474.9,309.22 474.94,309.8 474.98,310.4 475.02,311.01 475.06,311.65 475.1,312.32 475.12,312.6"/>
<path d="M329 209.9V218.12M334 210.72V219.15M349.4 211.59V220.24M352 212.49V221.39M367.2 213.45V222.62M382.7 214.46V223.92M385 215.54V225.32M386.5 216.68V226.83M398.8 217.91V228.46M403.3 219.23V230.23M408.7 220.65V232.18M409.2 222.21V234.34M409.8 223.92V236.76M411.3 225.83V239.51M412.6 227.97V242.7M413.9 230.42V246.48M427.5 233.29V251.12M431 236.76V257.11M433.7 241.16V265.55M441.3 247.21V279.86M476.6 257.11V312.6" stroke="#000" stroke-opacity="0.8" stroke-width="1.1" fill="none"/>
<g fill="#000"><circle cx="329" cy="213.56" r="1.25"/><circle cx="334" cy="214.46" r="1.25"/><circle cx="349.4" cy="215.41" r="1.25"/><circle cx="352" cy="216.41" r="1.25"/><circle cx="367.2" cy="217.47" r="1.25"/><circle cx="382.7" cy="218.59" r="1.25"/><circle cx="385" cy="219.79" r="1.25"/><circle cx="386.5" cy="221.07" r="1.25"/><circle cx="398.8" cy="222.44" r="1.25"/><circle cx="403.3" cy="223.92" r="1.25"/><circle cx="408.7" cy="225.53" r="1.25"/><circle cx="409.2" cy="227.3" r="1.25"/><circle cx="409.8" cy="229.25" r="1.25"/><circle cx="411.3" cy="231.43" r="1.25"/><circle cx="412.6" cy="233.91" r="1.25"/><circle cx="413.9" cy="236.76" r="1.25"/><circle cx="427.5" cy="240.14" r="1.25"/><circle cx="431" cy="244.27" r="1.25"/><circle cx="433.7" cy="249.6" r="1.25"/><circle cx="441.3" cy="257.11" r="1.25"/><circle cx="476.6" cy="269.95" r="1.25"/></g>
<text x="363.45" y="281.9" text-anchor="middle" style="font-family:'Liberation Serif',serif;font-size:13.6px" textLength="93.53" lengthAdjust="spacingAndGlyphs" fill="#000">IGR J16328-4726</text>
<text x="363.45" y="295.1" text-anchor="middle" style="font-family:'Liberation Serif',serif;font-size:13.6px" textLength="21.65" lengthAdjust="spacingAndGlyphs" fill="#000">(all)</text>
<line x1="340.54" y1="312.6" x2="340.54" y2="172" stroke="#ff3b3b" stroke-width="1.3" stroke-dasharray="3.2 1.5" stroke-dashoffset="3.3"/>
<g class="an" fill="#000"><text x="402.95" y="188.2" style="font-family:'Liberation Sans';font-style:italic;font-size:9.2px" textLength="5.9" lengthAdjust="spacingAndGlyphs">α</text><text x="408.9" y="189.8" style="font-family:'Liberation Sans';font-style:italic;font-size:6.3px" textLength="3.7" lengthAdjust="spacingAndGlyphs">x</text><text x="403.6" y="201.6" style="font-family:'Liberation Sans';font-style:italic;font-size:9.2px" textLength="5.4" lengthAdjust="spacingAndGlyphs">x</text><text x="408.5" y="203.3" style="font-family:'Liberation Sans',sans-serif;font-size:6px" textLength="3.4" lengthAdjust="spacingAndGlyphs">0</text><text x="414.84" y="188.2" style="font-family:'Liberation Sans',sans-serif;font-size:9.2px" textLength="6.93" lengthAdjust="spacingAndGlyphs">=</text><text x="423.4" y="188.2" style="font-family:'Liberation Sans',sans-serif;font-size:9.2px" textLength="19.59" lengthAdjust="spacingAndGlyphs">1.74</text><text x="445.19" y="188.2" style="font-family:'Liberation Sans',sans-serif;font-size:8.8px" textLength="6.6" lengthAdjust="spacingAndGlyphs">±</text><text x="453.89" y="188.2" style="font-family:'Liberation Sans',sans-serif;font-size:9.2px" textLength="19.59" lengthAdjust="spacingAndGlyphs">0.21</text><text x="413.94" y="201.6" style="font-family:'Liberation Sans',sans-serif;font-size:9.2px" textLength="6.93" lengthAdjust="spacingAndGlyphs">=</text><text x="423.4" y="201.6" style="font-family:'Liberation Sans',sans-serif;font-size:9.2px" textLength="30.78" lengthAdjust="spacingAndGlyphs">454.45</text><text x="456.38" y="201.6" style="font-family:'Liberation Sans',sans-serif;font-size:8.8px" textLength="6.6" lengthAdjust="spacingAndGlyphs">±</text><text x="465.08" y="201.6" style="font-family:'Liberation Sans',sans-serif;font-size:9.2px" textLength="30.78" lengthAdjust="spacingAndGlyphs">246.08</text></g>
<rect x="287" y="172" width="211" height="140.6" fill="none" stroke="#6a6a6a" stroke-width="1"/>
<path d="M313.12 312.6v1.5M332.11 312.6v1.5M346.84 312.6v1.5M358.88 312.6v1.5M369.05 312.6v1.5M377.87 312.6v1.5M385.64 312.6v1.5M392.6 312.6v2.6M438.36 312.6v1.5M465.12 312.6v1.5M484.11 312.6v1.5M287 312.6h-2.6M287 299.76h-1.5M287 292.25h-1.5M287 286.92h-1.5M287 282.79h-1.5M287 279.41h-1.5M287 276.56h-1.5M287 274.08h-1.5M287 271.9h-1.5M287 269.95h-2.6M287 257.11h-1.5M287 249.6h-1.5M287 244.27h-1.5M287 240.14h-1.5M287 236.76h-1.5M287 233.91h-1.5M287 231.43h-1.5M287 229.25h-1.5M287 227.3h-2.6M287 214.46h-1.5M287 206.95h-1.5M287 201.62h-1.5M287 197.49h-1.5M287 194.11h-1.5M287 191.26h-1.5M287 188.78h-1.5M287 186.6h-1.5M287 184.65h-2.6" stroke="#6a6a6a" stroke-width="0.8" fill="none"/>
<g style="font-family:'Liberation Sans',sans-serif;font-size:8.2px" fill="#000"><text x="392.6" y="322.6" text-anchor="middle">10<tspan dx="0.6" dy="-2.7" style="font-size:6.2px">3</tspan></text><text x="281.8" y="315.6" text-anchor="end">10<tspan dx="0.6" dy="-2.7" style="font-size:6.2px">−1</tspan></text><text x="283" y="272.95" text-anchor="end">10<tspan dx="0.6" dy="-2.7" style="font-size:6.2px">0</tspan></text><text x="281.8" y="230.3" text-anchor="end">10<tspan dx="0.6" dy="-2.7" style="font-size:6.2px">1</tspan></text><text x="283" y="187.65" text-anchor="end">10<tspan dx="0.6" dy="-2.7" style="font-size:6.2px">2</tspan></text></g>
<text x="392.5" y="332.2" text-anchor="middle" style="font-family:'Liberation Sans',sans-serif;font-size:9px" textLength="53.6" lengthAdjust="spacingAndGlyphs" fill="#000">Duration (s)</text>
<text transform="translate(261.8,242.3) rotate(-90)" x="0" y="0" text-anchor="middle" style="font-family:'Liberation Sans',sans-serif;font-size:9px" textLength="88.7" lengthAdjust="spacingAndGlyphs" fill="#000">Number (&gt;Duration</text>
<polygon fill="#474747" stroke="#474747" stroke-width="0.3" points="590,218.63 590.5,218.67 591,218.72 591.5,218.77 592,218.82 592.5,218.86 593,218.91 593.5,218.96 594,219.01 594.5,219.07 595,219.12 595.5,219.17 596,219.22 596.5,219.28 597,219.33 597.5,219.39 598,219.44 598.5,219.5 599,219.56 599.5,219.62 600,219.67 600.5,219.73 601,219.79 601.5,219.86 602,219.92 602.5,219.98 603,220.04 603.5,220.11 604,220.17 604.5,220.24 605,220.31 605.5,220.37 606,220.44 606.5,220.51 607,220.58 607.5,220.65 608,220.72 608.5,220.8 609,220.87 609.5,220.94 610,221.02 610.5,221.09 611,221.17 611.5,221.25 612,221.32 612.5,221.4 613,221.48 613.5,221.56 614,221.65 614.5,221.73 615,221.81 615.5,221.9 616,221.98 616.5,222.07 617,222.15 617.5,222.24 618,222.33 618.5,222.42 619,222.51 619.5,222.6 620,222.7 620.5,222.8 621,222.9 621.5,223 622,223.1 622.5,223.21 623,223.31 623.5,223.42 624,223.52 624.5,223.63 625,223.74 625.5,223.85 626,223.96 626.5,224.07 627,224.19 627.5,224.3 628,224.42 628.5,224.53 629,224.65 629.5,224.77 630,224.89 630.5,225.01 631,225.13 631.5,225.25 632,225.37 632.5,225.5 633,225.62 633.5,225.75 634,225.88 634.5,226.01 635,226.14 635.5,226.27 636,226.4 636.5,226.54 637,226.67 637.5,226.81 638,226.94 638.5,227.08 639,227.22 639.5,227.36 640,227.5 640.5,227.63 641,227.76 641.5,227.89 642,228.02 642.5,228.15 643,228.29 643.5,228.42 644,228.56 644.5,228.7 645,228.84 645.5,228.98 646,229.12 646.5,229.26 647,229.41 647.5,229.55 648,229.7 648.5,229.85 649,230 649.5,230.15 650,230.3 650.5,230.45 651,230.61 651.5,230.76 652,230.92 652.5,231.08 653,231.24 653.5,231.4 654,231.57 654.5,231.73 655,231.9 655.5,232.07 656,232.24 656.5,232.41 657,232.58 657.5,232.75 658,232.93 658.5,233.11 659,233.29 659.5,233.47 660,233.65 660.5,233.83 661,234.02 661.5,234.21 662,234.39 662.5,234.58 663,234.78 663.5,234.97 664,235.17 664.5,235.36 665,235.56 665.5,235.77 666,235.97 666.5,236.17 667,236.38 667.5,236.59 668,236.8 668.5,237.01 669,237.23 669.5,237.45 670,237.66 670.5,237.89 671,238.11 671.5,238.34 672,238.56 672.5,238.79 673,239.03 673.5,239.26 674,239.5 674.5,239.74 675,239.98 675.5,240.22 676,240.47 676.5,240.72 677,240.97 677.5,241.22 678,241.48 678.5,241.74 679,242.01 679.5,242.27 680,242.54 680.5,242.75 681,242.96 681.5,243.17 682,243.39 682.5,243.61 683,243.83 683.5,244.06 684,244.29 684.5,244.52 685,244.76 685.5,245 686,245.25 686.5,245.5 687,245.75 687.5,246.01 688,246.27 688.5,246.54 689,246.81 689.5,247.08 690,247.36 690.5,247.65 691,247.94 691.5,248.23 692,248.53 692.5,248.84 693,249.15 693.5,249.47 694,249.79 694.5,250.12 695,250.46 695.5,250.8 696,251.15 696.5,251.51 697,251.88 697.5,252.25 698,252.63 698.5,253.02 699,253.42 699.5,253.83 700,254.25 700.2,254.42 700.2,270.02 700,269.8 699.5,269.26 699,268.74 698.5,268.22 698,267.71 697.5,267.21 697,266.72 696.5,266.23 696,265.76 695.5,265.29 695,264.82 694.5,264.37 694,263.92 693.5,263.48 693,263.04 692.5,262.61 692,262.18 691.5,261.76 691,261.35 690.5,260.94 690,260.54 689.5,260.14 689,259.75 688.5,259.36 688,258.97 687.5,258.59 687,258.21 686.5,257.84 686,257.47 685.5,257.11 685,256.75 684.5,256.39 684,256.04 683.5,255.69 683,255.35 682.5,255 682,254.66 681.5,254.33 681,254 680.5,253.67 680,253.34 679.5,252.99 679,252.64 678.5,252.29 678,251.94 677.5,251.6 677,251.26 676.5,250.92 676,250.59 675.5,250.26 675,249.93 674.5,249.6 674,249.28 673.5,248.95 673,248.64 672.5,248.32 672,248 671.5,247.69 671,247.38 670.5,247.07 670,246.76 669.5,246.46 669,246.16 668.5,245.86 668,245.56 667.5,245.26 667,244.97 666.5,244.68 666,244.39 665.5,244.1 665,243.81 664.5,243.53 664,243.25 663.5,242.97 663,242.69 662.5,242.41 662,242.13 661.5,241.86 661,241.59 660.5,241.32 660,241.05 659.5,240.8 659,240.56 658.5,240.31 658,240.07 657.5,239.83 657,239.59 656.5,239.35 656,239.12 655.5,238.88 655,238.65 654.5,238.42 654,238.19 653.5,237.96 653,237.73 652.5,237.51 652,237.28 651.5,237.06 651,236.84 650.5,236.62 650,236.4 649.5,236.18 649,235.97 648.5,235.75 648,235.54 647.5,235.33 647,235.12 646.5,234.91 646,234.7 645.5,234.49 645,234.29 644.5,234.08 644,233.88 643.5,233.68 643,233.48 642.5,233.28 642,233.08 641.5,232.89 641,232.69 640.5,232.5 640,232.3 639.5,232.13 639,231.95 638.5,231.78 638,231.6 637.5,231.43 637,231.26 636.5,231.09 636,230.92 635.5,230.75 635,230.59 634.5,230.42 634,230.26 633.5,230.1 633,229.93 632.5,229.77 632,229.61 631.5,229.46 631,229.3 630.5,229.14 630,228.99 629.5,228.83 629,228.68 628.5,228.53 628,228.38 627.5,228.23 627,228.08 626.5,227.93 626,227.78 625.5,227.64 625,227.49 624.5,227.35 624,227.2 623.5,227.06 623,226.92 622.5,226.78 622,226.64 621.5,226.5 621,226.37 620.5,226.23 620,226.1 619.5,225.96 619,225.83 618.5,225.7 618,225.57 617.5,225.44 617,225.31 616.5,225.19 616,225.06 615.5,224.94 615,224.81 614.5,224.69 614,224.57 613.5,224.44 613,224.32 612.5,224.2 612,224.08 611.5,223.97 611,223.85 610.5,223.73 610,223.62 609.5,223.5 609,223.39 608.5,223.28 608,223.16 607.5,223.05 607,222.94 606.5,222.83 606,222.72 605.5,222.61 605,222.51 604.5,222.4 604,222.29 603.5,222.19 603,222.08 602.5,221.98 602,221.88 601.5,221.78 601,221.67 600.5,221.57 600,221.47 599.5,221.38 599,221.28 598.5,221.18 598,221.08 597.5,220.99 597,220.89 596.5,220.8 596,220.7 595.5,220.61 595,220.52 594.5,220.43 594,220.33 593.5,220.24 593,220.15 592.5,220.06 592,219.98 591.5,219.89 591,219.8 590.5,219.71 590,219.63"/>
<line x1="700.2" y1="270.02" x2="700.2" y2="312.6" stroke="#6e6e6e" stroke-width="1.0"/>
<polyline fill="none" stroke="#ff0000" stroke-width="1.45" stroke-linejoin="round" points="558.2,215.96 558.6,215.99 559,216.02 559.4,216.05 559.8,216.08 560.2,216.11 560.6,216.14 561,216.17 561.4,216.2 561.8,216.23 562.2,216.26 562.6,216.29 563,216.32 563.4,216.35 563.8,216.38 564.2,216.41 564.6,216.45 565,216.48 565.4,216.51 565.8,216.54 566.2,216.58 566.6,216.61 567,216.64 567.4,216.68 567.8,216.71 568.2,216.75 568.6,216.78 569,216.82 569.4,216.85 569.8,216.89 570.2,216.92 570.6,216.96 571,217 571.4,217.03 571.8,217.07 572.2,217.11 572.6,217.15 573,217.19 573.4,217.22 573.8,217.26 574.2,217.3 574.6,217.34 575,217.38 575.4,217.42 575.8,217.46 576.2,217.5 576.6,217.54 577,217.59 577.4,217.63 577.8,217.67 578.2,217.71 578.6,217.75 579,217.8 579.4,217.84 579.8,217.89 580.2,217.93 580.6,217.97 581,218.02 581.4,218.06 581.8,218.11 582.2,218.16 582.6,218.2 583,218.25 583.4,218.3 583.8,218.34 584.2,218.39 584.6,218.44 585,218.49 585.4,218.54 585.8,218.59 586.2,218.64 586.6,218.69 587,218.74 587.4,218.79 587.8,218.84 588.2,218.89 588.6,218.94 589,219 589.4,219.05 589.8,219.1 590.2,219.16 590.6,219.21 591,219.26 591.4,219.32 591.8,219.37 592.2,219.43 592.6,219.49 593,219.54 593.4,219.6 593.8,219.66 594.2,219.72 594.6,219.77 595,219.83 595.4,219.89 595.8,219.95 596.2,220.01 596.6,220.07 597,220.13 597.4,220.2 597.8,220.26 598.2,220.32 598.6,220.38 599,220.45 599.4,220.51 599.8,220.58 600.2,220.64 600.6,220.71 601,220.77 601.4,220.84 601.8,220.9 602.2,220.97 602.6,221.04 603,221.11 603.4,221.18 603.8,221.25 604.2,221.32 604.6,221.39 605,221.46 605.4,221.53 605.8,221.6 606.2,221.67 606.6,221.74 607,221.82 607.4,221.89 607.8,221.97 608.2,222.04 608.6,222.12 609,222.19 609.4,222.27 609.8,222.34 610.2,222.42 610.6,222.5 611,222.58 611.4,222.66 611.8,222.74 612.2,222.82 612.6,222.9 613,222.98 613.4,223.06 613.8,223.14 614.2,223.23 614.6,223.31 615,223.39 615.4,223.48 615.8,223.56 616.2,223.65 616.6,223.74 617,223.82 617.4,223.91 617.8,224 618.2,224.09 618.6,224.18 619,224.27 619.4,224.36 619.8,224.45 620.2,224.54 620.6,224.63 621,224.73 621.4,224.82 621.8,224.91 622.2,225.01 622.6,225.1 623,225.2 623.4,225.3 623.8,225.4 624.2,225.49 624.6,225.59 625,225.69 625.4,225.79 625.8,225.89 626.2,225.99 626.6,226.09 627,226.2 627.4,226.3 627.8,226.4 628.2,226.51 628.6,226.61 629,226.72 629.4,226.83 629.8,226.93 630.2,227.04 630.6,227.15 631,227.26 631.4,227.37 631.8,227.48 632.2,227.59 632.6,227.7 633,227.81 633.4,227.93 633.8,228.04 634.2,228.16 634.6,228.27 635,228.39 635.4,228.51 635.8,228.62 636.2,228.74 636.6,228.86 637,228.98 637.4,229.1 637.8,229.22 638.2,229.34 638.6,229.47 639,229.59 639.4,229.71 639.8,229.84 640.2,229.97 640.6,230.09 641,230.22 641.4,230.35 641.8,230.48 642.2,230.61 642.6,230.74 643,230.87 643.38,230.99 643.76,231.12 644.14,231.25 644.52,231.37 644.9,231.5 645.28,231.63 645.66,231.76 646.04,231.89 646.42,232.02 646.8,232.16 647.18,232.29 647.56,232.42 647.94,232.56 648.32,232.69 648.7,232.83 649.08,232.96 649.46,233.1 649.84,233.24 650.22,233.38 650.6,233.52 650.98,233.66 651.36,233.8 651.74,233.94 652.12,234.09 652.5,234.23 652.88,234.38 653.26,234.52 653.64,234.67 654.02,234.82 654.4,234.96 654.78,235.11 655.16,235.26 655.54,235.41 655.92,235.56 656.3,235.72 656.68,235.87 657.06,236.02 657.44,236.18 657.82,236.34 658.2,236.49 658.58,236.65 658.96,236.81 659.34,236.97 659.72,237.13 660.1,237.29 660.48,237.45 660.86,237.62 661.24,237.78 661.62,237.95 662,238.11 662.38,238.28 662.76,238.45 663.14,238.62 663.52,238.79 663.9,238.96 664.28,239.13 664.66,239.31 665.04,239.48 665.42,239.66 665.8,239.84 666.18,240.01 666.56,240.19 666.94,240.37 667.32,240.55 667.7,240.74 668.08,240.92 668.44,241.09 668.8,241.27 669.16,241.45 669.52,241.63 669.88,241.8 670.24,241.99 670.6,242.17 670.96,242.35 671.32,242.53 671.68,242.72 672.04,242.9 672.4,243.09 672.76,243.28 673.12,243.47 673.48,243.66 673.84,243.85 674.2,244.04 674.56,244.24 674.92,244.43 675.28,244.63 675.64,244.83 676,245.03 676.36,245.23 676.72,245.43 677.08,245.64 677.44,245.84 677.8,246.05 678.16,246.25 678.52,246.46 678.88,246.67 679.24,246.89 679.6,247.1 679.96,247.32 680.32,247.53 680.68,247.75 681.04,247.97 681.4,248.19 681.74,248.4 682.08,248.62 682.42,248.83 682.76,249.04 683.1,249.26 683.44,249.48 683.78,249.7 684.12,249.92 684.46,250.14 684.8,250.37 685.14,250.6 685.48,250.82 685.82,251.05 686.16,251.29 686.5,251.52 686.84,251.76 687.18,251.99 687.52,252.23 687.86,252.48 688.2,252.72 688.54,252.96 688.88,253.21 689.22,253.46 689.56,253.71 689.9,253.97 690.22,254.21 690.54,254.45 690.86,254.7 691.18,254.95 691.5,255.2 691.82,255.45 692.14,255.7 692.46,255.96 692.78,256.22 693.1,256.48 693.42,256.74 693.74,257.01 694.06,257.28 694.38,257.55 694.7,257.82 695.02,258.1 695.34,258.38 695.66,258.66 695.96,258.93 696.26,259.2 696.56,259.47 696.86,259.75 697.16,260.02 697.46,260.3 697.76,260.59 698.06,260.88 698.36,261.17 698.66,261.46 698.96,261.76 699.26,262.06 699.56,262.36 699.84,262.65 700.12,262.94 700.4,263.23 700.68,263.52 700.96,263.82 701.24,264.13 701.52,264.43 701.8,264.74 702.08,265.06 702.36,265.38 702.64,265.7 702.92,266.02 703.18,266.33 703.44,266.64 703.7,266.96 703.96,267.27 704.22,267.6 704.48,267.92 704.74,268.25 705,268.59 705.26,268.93 705.52,269.27 705.76,269.6 706,269.92 706.24,270.26 706.48,270.59 706.72,270.93 706.96,271.28 707.2,271.63 707.44,271.99 707.68,272.35 707.9,272.69 708.12,273.03 708.34,273.37 708.56,273.73 708.78,274.08 709,274.45 709.22,274.81 709.44,275.19 709.66,275.57 709.86,275.92 710.06,276.28 710.26,276.64 710.46,277.01 710.66,277.39 710.86,277.77 711.06,278.16 711.26,278.55 711.44,278.91 711.62,279.28 711.8,279.65 711.98,280.03 712.16,280.42 712.34,280.81 712.52,281.21 712.7,281.62 712.86,281.99 713.02,282.37 713.18,282.75 713.34,283.14 713.5,283.54 713.66,283.94 713.82,284.35 713.98,284.77 714.14,285.2 714.28,285.58 714.42,285.97 714.56,286.37 714.7,286.77 714.84,287.18 714.98,287.61 715.12,288.03 715.26,288.47 715.38,288.85 715.5,289.24 715.62,289.64 715.74,290.05 715.86,290.46 715.98,290.88 716.1,291.31 716.22,291.75 716.34,292.2 716.46,292.66 716.56,293.05 716.66,293.45 716.76,293.86 716.86,294.28 716.96,294.7 717.06,295.13 717.16,295.58 717.26,296.03 717.36,296.49 717.46,296.97 717.56,297.45 717.64,297.85 717.72,298.25 717.8,298.67 717.88,299.09 717.96,299.52 718.04,299.96 718.12,300.41 718.2,300.88 718.28,301.35 718.36,301.83 718.44,302.33 718.52,302.84 718.6,303.36 718.66,303.76 718.72,304.17 718.78,304.59 718.84,305.02 718.9,305.46 718.96,305.91 719.02,306.37 719.08,306.84 719.14,307.32 719.2,307.81 719.26,308.32 719.32,308.84 719.38,309.37 719.44,309.92 719.5,310.49 719.56,311.07 719.6,311.47 719.64,311.88 719.68,312.3 719.72,312.6"/>
<path d="M558.2 211.59V220.24M573.2 212.49V221.39M576.5 213.45V222.62M593.1 214.46V223.92M606.6 215.54V225.32M616.3 216.68V226.83M626.9 217.91V228.46M630.4 219.23V230.23M631.7 220.65V232.18M636.5 222.21V234.34M638.9 223.92V236.76M640.3 225.83V239.51M644.3 227.97V242.7M645.4 230.42V246.48M646.6 233.29V251.12M661.7 236.76V257.11M691.9 241.16V265.55M700.1 247.21V279.86M720.2 257.11V312.6" stroke="#000" stroke-opacity="0.8" stroke-width="1.1" fill="none"/>
<g fill="#000"><circle cx="558.2" cy="215.41" r="1.25"/><circle cx="573.2" cy="216.41" r="1.25"/><circle cx="576.5" cy="217.47" r="1.25"/><circle cx="593.1" cy="218.59" r="1.25"/><circle cx="606.6" cy="219.79" r="1.25"/><circle cx="616.3" cy="221.07" r="1.25"/><circle cx="626.9" cy="222.44" r="1.25"/><circle cx="630.4" cy="223.92" r="1.25"/><circle cx="631.7" cy="225.53" r="1.25"/><circle cx="636.5" cy="227.3" r="1.25"/><circle cx="638.9" cy="229.25" r="1.25"/><circle cx="640.3" cy="231.43" r="1.25"/><circle cx="644.3" cy="233.91" r="1.25"/><circle cx="645.4" cy="236.76" r="1.25"/><circle cx="646.6" cy="240.14" r="1.25"/><circle cx="661.7" cy="244.27" r="1.25"/><circle cx="691.9" cy="249.6" r="1.25"/><circle cx="700.1" cy="257.11" r="1.25"/><circle cx="720.2" cy="269.95" r="1.25"/></g>
<text x="616.4" y="280.8" text-anchor="middle" style="font-family:'Liberation Serif',serif;font-size:13.6px" textLength="93.53" lengthAdjust="spacingAndGlyphs" fill="#000">IGR J18450-0435</text>
<text x="616.4" y="294" text-anchor="middle" style="font-family:'Liberation Serif',serif;font-size:13.6px" textLength="21.65" lengthAdjust="spacingAndGlyphs" fill="#000">(all)</text>
<line x1="609.72" y1="312.6" x2="609.72" y2="172" stroke="#ff3b3b" stroke-width="1.3" stroke-dasharray="3.2 1.5" stroke-dashoffset="3.3"/>
<g class="an" fill="#000"><text x="657.45" y="188.2" style="font-family:'Liberation Sans';font-style:italic;font-size:9.2px" textLength="5.9" lengthAdjust="spacingAndGlyphs">α</text><text x="663.4" y="189.8" style="font-family:'Liberation Sans';font-style:italic;font-size:6.3px" textLength="3.7" lengthAdjust="spacingAndGlyphs">x</text><text x="658.1" y="201.6" style="font-family:'Liberation Sans';font-style:italic;font-size:9.2px" textLength="5.4" lengthAdjust="spacingAndGlyphs">x</text><text x="663" y="203.3" style="font-family:'Liberation Sans',sans-serif;font-size:6px" textLength="3.4" lengthAdjust="spacingAndGlyphs">0</text><text x="669.34" y="188.2" style="font-family:'Liberation Sans',sans-serif;font-size:9.2px" textLength="6.93" lengthAdjust="spacingAndGlyphs">=</text><text x="677.9" y="188.2" style="font-family:'Liberation Sans',sans-serif;font-size:9.2px" textLength="19.59" lengthAdjust="spacingAndGlyphs">1.70</text><text x="699.69" y="188.2" style="font-family:'Liberation Sans',sans-serif;font-size:8.8px" textLength="6.6" lengthAdjust="spacingAndGlyphs">±</text><text x="708.39" y="188.2" style="font-family:'Liberation Sans',sans-serif;font-size:9.2px" textLength="19.59" lengthAdjust="spacingAndGlyphs">0.24</text><text x="668.44" y="201.6" style="font-family:'Liberation Sans',sans-serif;font-size:9.2px" textLength="6.93" lengthAdjust="spacingAndGlyphs">=</text><text x="677.9" y="201.6" style="font-family:'Liberation Sans',sans-serif;font-size:9.2px" textLength="30.78" lengthAdjust="spacingAndGlyphs">315.26</text><text x="710.88" y="201.6" style="font-family:'Liberation Sans',sans-serif;font-size:8.8px" textLength="6.6" lengthAdjust="spacingAndGlyphs">±</text><text x="719.58" y="201.6" style="font-family:'Liberation Sans',sans-serif;font-size:9.2px" textLength="30.78" lengthAdjust="spacingAndGlyphs">164.85</text></g>
<rect x="541.5" y="172" width="211" height="140.6" fill="none" stroke="#6a6a6a" stroke-width="1"/>
<path d="M547.57 312.6v1.5M553.08 312.6v1.5M557.95 312.6v1.5M562.3 312.6v2.6M590.93 312.6v1.5M607.67 312.6v1.5M619.56 312.6v1.5M628.77 312.6v1.5M636.3 312.6v1.5M642.67 312.6v1.5M648.18 312.6v1.5M653.05 312.6v1.5M657.4 312.6v2.6M686.03 312.6v1.5M702.77 312.6v1.5M714.66 312.6v1.5M723.87 312.6v1.5M731.4 312.6v1.5M737.77 312.6v1.5M743.28 312.6v1.5M748.15 312.6v1.5M752.5 312.6v2.6M541.5 312.6h-2.6M541.5 299.76h-1.5M541.5 292.25h-1.5M541.5 286.92h-1.5M541.5 282.79h-1.5M541.5 279.41h-1.5M541.5 276.56h-1.5M541.5 274.08h-1.5M541.5 271.9h-1.5M541.5 269.95h-2.6M541.5 257.11h-1.5M541.5 249.6h-1.5M541.5 244.27h-1.5M541.5 240.14h-1.5M541.5 236.76h-1.5M541.5 233.91h-1.5M541.5 231.43h-1.5M541.5 229.25h-1.5M541.5 227.3h-2.6M541.5 214.46h-1.5M541.5 206.95h-1.5M541.5 201.62h-1.5M541.5 197.49h-1.5M541.5 194.11h-1.5M541.5 191.26h-1.5M541.5 188.78h-1.5M541.5 186.6h-1.5M541.5 184.65h-2.6" stroke="#6a6a6a" stroke-width="0.8" fill="none"/>
<g style="font-family:'Liberation Sans',sans-serif;font-size:8.2px" fill="#000"><text x="562.3" y="322.6" text-anchor="middle">10<tspan dx="0.6" dy="-2.7" style="font-size:6.2px">2</tspan></text><text x="657.4" y="322.6" text-anchor="middle">10<tspan dx="0.6" dy="-2.7" style="font-size:6.2px">3</tspan></text><text x="752.5" y="322.6" text-anchor="middle">10<tspan dx="0.6" dy="-2.7" style="font-size:6.2px">4</tspan></text><text x="536.3" y="315.6" text-anchor="end">10<tspan dx="0.6" dy="-2.7" style="font-size:6.2px">−1</tspan></text><text x="537.5" y="272.95" text-anchor="end">10<tspan dx="0.6" dy="-2.7" style="font-size:6.2px">0</tspan></text><text x="536.3" y="230.3" text-anchor="end">10<tspan dx="0.6" dy="-2.7" style="font-size:6.2px">1</tspan></text><text x="537.5" y="187.65" text-anchor="end">10<tspan dx="0.6" dy="-2.7" style="font-size:6.2px">2</tspan></text></g>
<text x="647" y="332.2" text-anchor="middle" style="font-family:'Liberation Sans',sans-serif;font-size:9px" textLength="53.6" lengthAdjust="spacingAndGlyphs" fill="#000">Duration (s)</text>
<text transform="translate(516.3,242.3) rotate(-90)" x="0" y="0" text-anchor="middle" style="font-family:'Liberation Sans',sans-serif;font-size:9px" textLength="88.7" lengthAdjust="spacingAndGlyphs" fill="#000">Number (&gt;Duration</text>
</svg>
</body></html>
